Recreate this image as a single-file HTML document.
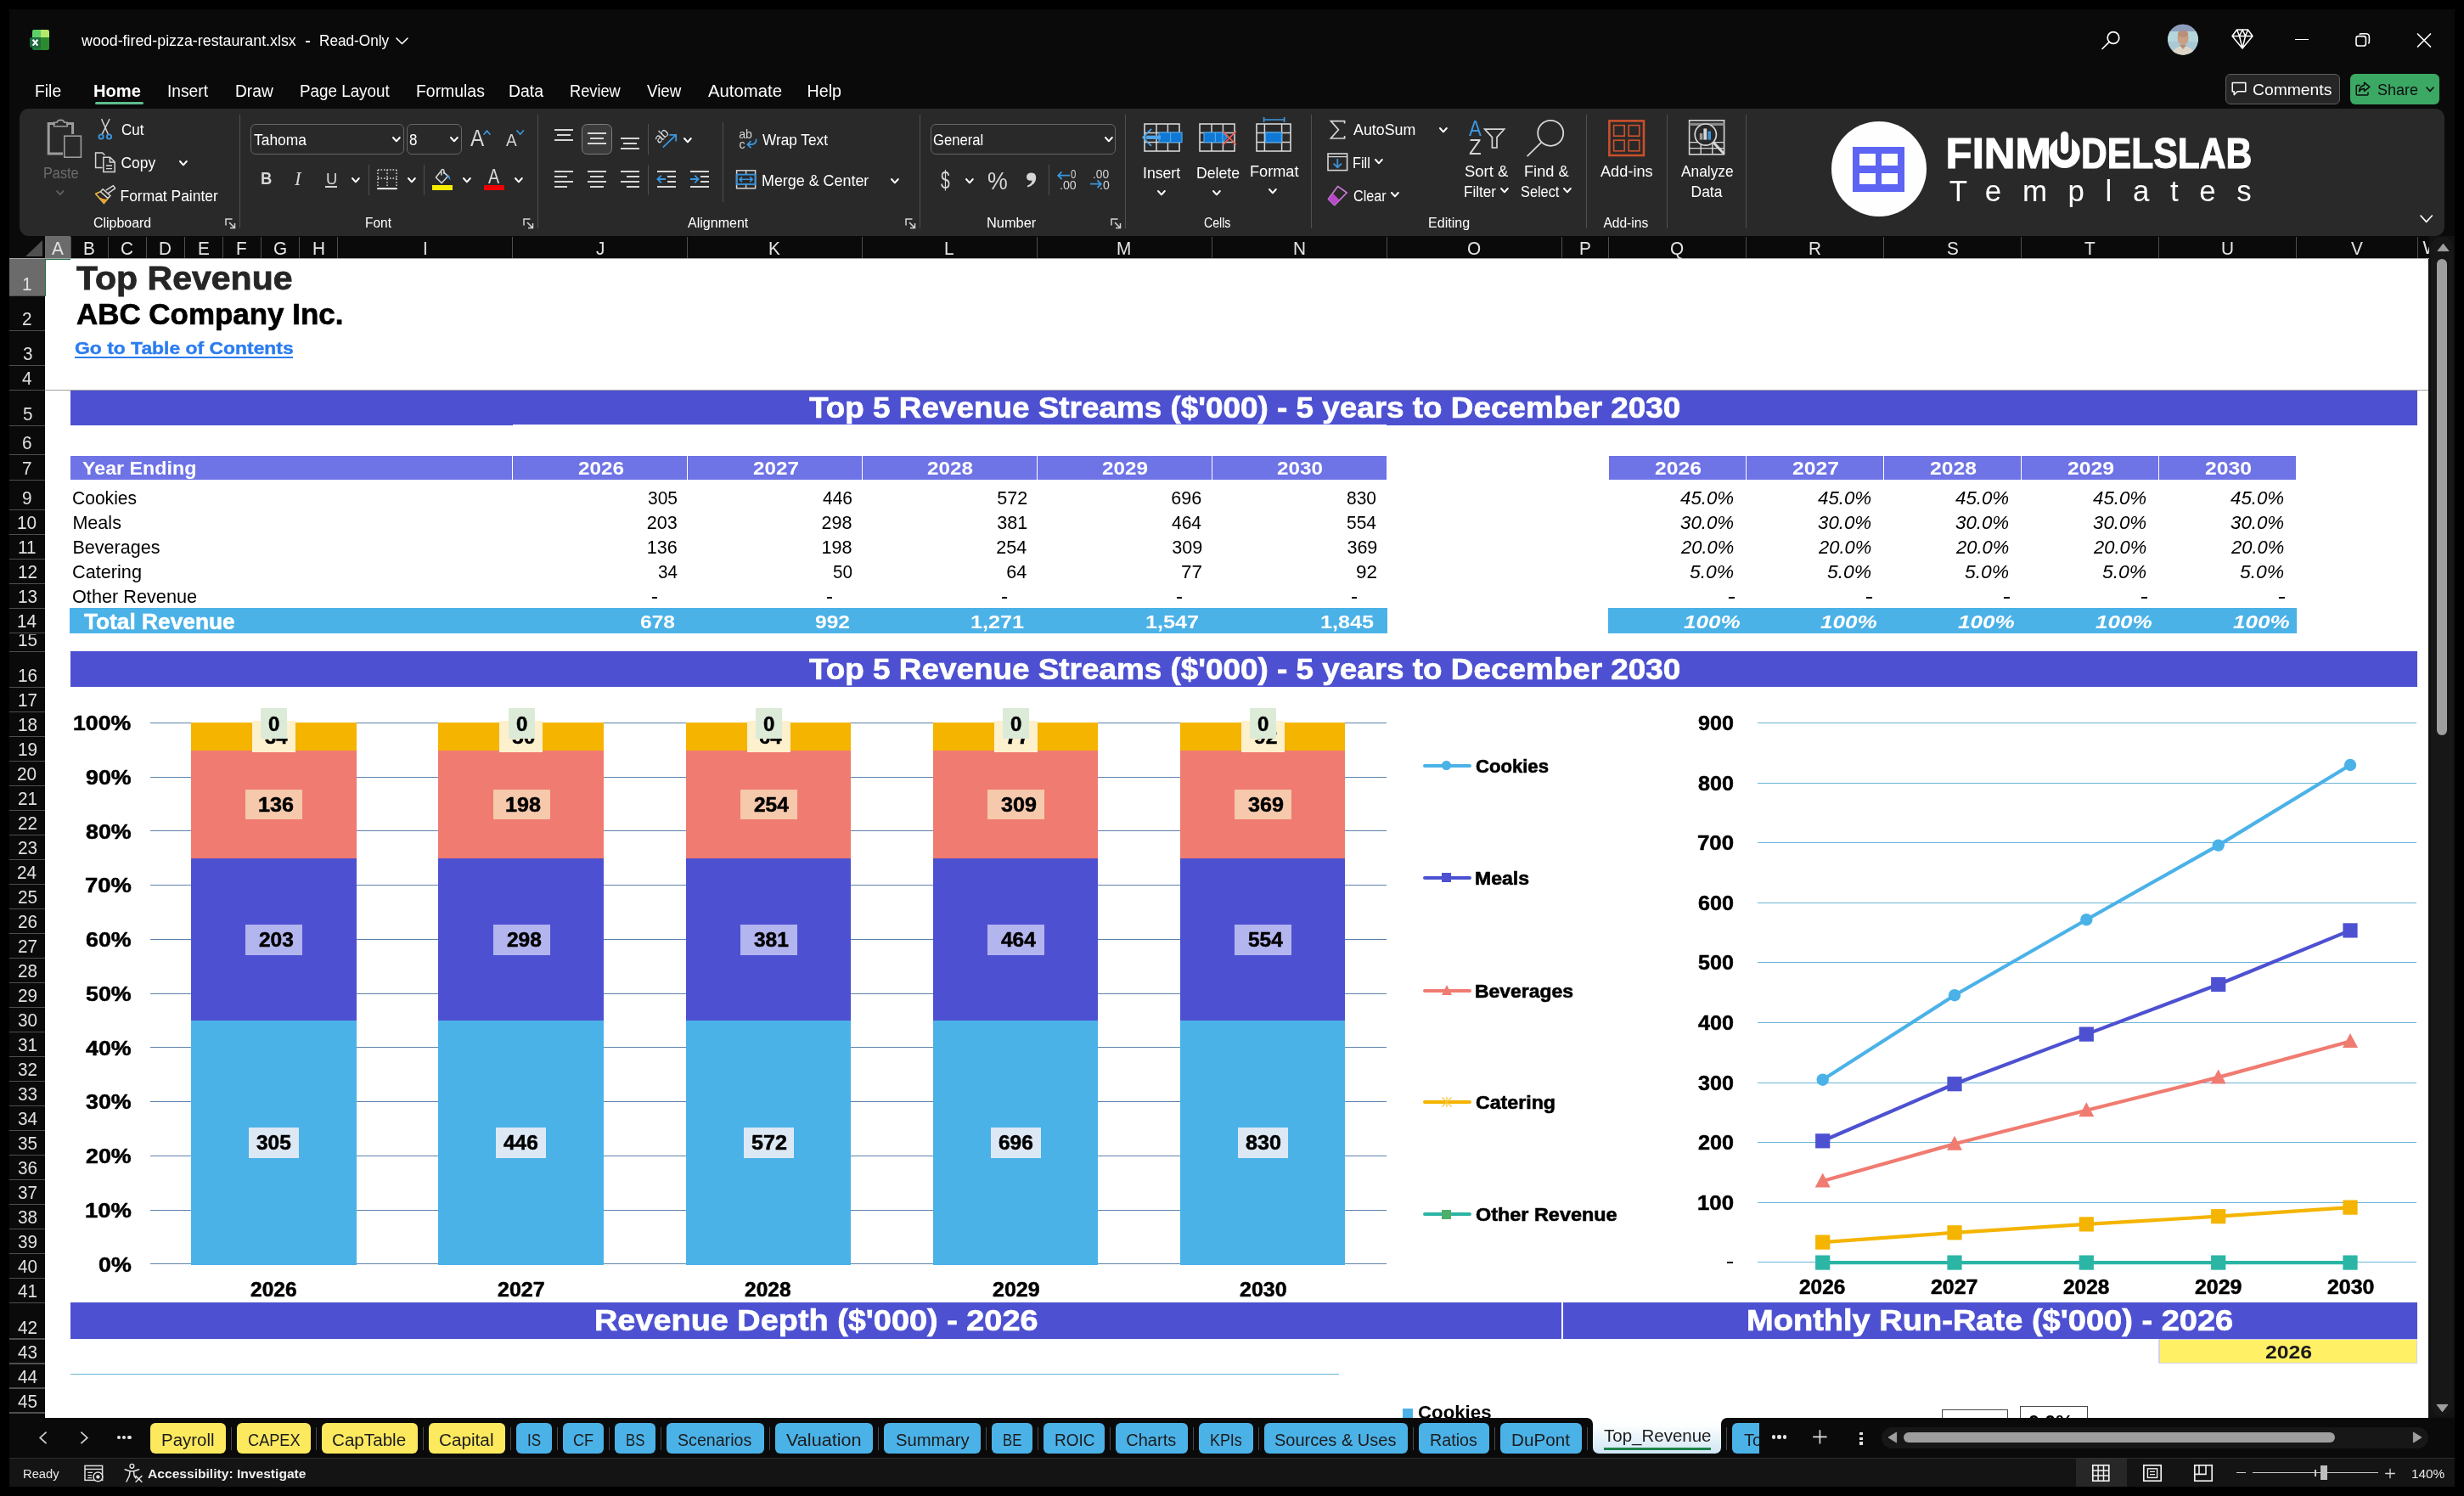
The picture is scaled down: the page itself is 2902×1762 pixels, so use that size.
<!DOCTYPE html>
<html><head><meta charset="utf-8"><title>Excel</title>
<style>
html,body{margin:0;padding:0;background:#000;}
body{width:2902px;height:1762px;position:relative;overflow:hidden;font-family:"Liberation Sans",sans-serif;}
#w{position:absolute;left:0;top:0;width:2902px;height:1762px;will-change:transform;}
#w>div,#w>svg,#w>span{position:absolute;}
.t{position:absolute;white-space:pre;line-height:1;transform-origin:0 0;}

</style></head><body><div id="w">
<div style="left:11.0px;top:11.0px;width:2880.0px;height:1740.0px;background:#0a0a0a;"></div>
<div style="left:53.2px;top:305.0px;width:2807.3px;height:1364.8px;background:#ffffff;"></div>
<div style="left:11.0px;top:277.7px;width:2849.5px;height:26.6px;background:#0a0a0a;"></div>
<div style="left:11.0px;top:304.3px;width:2849.5px;height:1.0px;background:#a6a6a6;"></div>
<div style="left:53.2px;top:277.7px;width:30.0px;height:26.6px;background:#6b6b6b;"></div>
<div style="left:82.6px;top:279.0px;width:1.2px;height:25.3px;background:#4f4f4f;"></div>
<div style="left:126.9px;top:279.0px;width:1.2px;height:25.3px;background:#4f4f4f;"></div>
<div style="left:171.9px;top:279.0px;width:1.2px;height:25.3px;background:#4f4f4f;"></div>
<div style="left:216.9px;top:279.0px;width:1.2px;height:25.3px;background:#4f4f4f;"></div>
<div style="left:261.9px;top:279.0px;width:1.2px;height:25.3px;background:#4f4f4f;"></div>
<div style="left:306.9px;top:279.0px;width:1.2px;height:25.3px;background:#4f4f4f;"></div>
<div style="left:351.9px;top:279.0px;width:1.2px;height:25.3px;background:#4f4f4f;"></div>
<div style="left:396.9px;top:279.0px;width:1.2px;height:25.3px;background:#4f4f4f;"></div>
<div style="left:602.9px;top:279.0px;width:1.2px;height:25.3px;background:#4f4f4f;"></div>
<div style="left:809.1px;top:279.0px;width:1.2px;height:25.3px;background:#4f4f4f;"></div>
<div style="left:1014.9px;top:279.0px;width:1.2px;height:25.3px;background:#4f4f4f;"></div>
<div style="left:1220.6px;top:279.0px;width:1.2px;height:25.3px;background:#4f4f4f;"></div>
<div style="left:1426.6px;top:279.0px;width:1.2px;height:25.3px;background:#4f4f4f;"></div>
<div style="left:1632.8px;top:279.0px;width:1.2px;height:25.3px;background:#4f4f4f;"></div>
<div style="left:1839.1px;top:279.0px;width:1.2px;height:25.3px;background:#4f4f4f;"></div>
<div style="left:1893.8px;top:279.0px;width:1.2px;height:25.3px;background:#4f4f4f;"></div>
<div style="left:2056.2px;top:279.0px;width:1.2px;height:25.3px;background:#4f4f4f;"></div>
<div style="left:2217.8px;top:279.0px;width:1.2px;height:25.3px;background:#4f4f4f;"></div>
<div style="left:2380.0px;top:279.0px;width:1.2px;height:25.3px;background:#4f4f4f;"></div>
<div style="left:2541.9px;top:279.0px;width:1.2px;height:25.3px;background:#4f4f4f;"></div>
<div style="left:2703.8px;top:279.0px;width:1.2px;height:25.3px;background:#4f4f4f;"></div>
<div style="left:2846.9px;top:279.0px;width:1.2px;height:25.3px;background:#4f4f4f;"></div>
<span class="t" style="left:60.93px;top:283.00px;font-size:21.43px;color:#e4e4e4;transform:scaleX(0.9700);">A</span>
<span class="t" style="left:98.07px;top:283.00px;font-size:21.43px;color:#e4e4e4;transform:scaleX(0.9700);">B</span>
<span class="t" style="left:142.24px;top:283.00px;font-size:21.43px;color:#e4e4e4;transform:scaleX(0.9700);">C</span>
<span class="t" style="left:187.24px;top:283.00px;font-size:21.43px;color:#e4e4e4;transform:scaleX(0.9700);">D</span>
<span class="t" style="left:232.72px;top:283.00px;font-size:21.43px;color:#e4e4e4;transform:scaleX(0.9700);">E</span>
<span class="t" style="left:278.21px;top:283.00px;font-size:21.43px;color:#e4e4e4;transform:scaleX(0.9700);">F</span>
<span class="t" style="left:321.75px;top:283.00px;font-size:21.43px;color:#e4e4e4;transform:scaleX(0.9700);">G</span>
<span class="t" style="left:367.73px;top:283.00px;font-size:21.43px;color:#e4e4e4;transform:scaleX(0.9700);">H</span>
<span class="t" style="left:498.07px;top:283.00px;font-size:21.43px;color:#e4e4e4;transform:scaleX(0.9700);">I</span>
<span class="t" style="left:701.75px;top:283.00px;font-size:21.43px;color:#e4e4e4;transform:scaleX(0.9700);">J</span>
<span class="t" style="left:904.84px;top:283.00px;font-size:21.43px;color:#e4e4e4;transform:scaleX(0.9700);">K</span>
<span class="t" style="left:1112.04px;top:283.00px;font-size:21.43px;color:#e4e4e4;transform:scaleX(0.9700);">L</span>
<span class="t" style="left:1315.47px;top:283.00px;font-size:21.43px;color:#e4e4e4;transform:scaleX(0.9700);">M</span>
<span class="t" style="left:1523.03px;top:283.00px;font-size:21.43px;color:#e4e4e4;transform:scaleX(0.9700);">N</span>
<span class="t" style="left:1728.31px;top:283.00px;font-size:21.43px;color:#e4e4e4;transform:scaleX(0.9700);">O</span>
<span class="t" style="left:1859.78px;top:283.00px;font-size:21.43px;color:#e4e4e4;transform:scaleX(0.9700);">P</span>
<span class="t" style="left:1967.36px;top:283.00px;font-size:21.43px;color:#e4e4e4;transform:scaleX(0.9700);">Q</span>
<span class="t" style="left:2129.84px;top:283.00px;font-size:21.43px;color:#e4e4e4;transform:scaleX(0.9700);">R</span>
<span class="t" style="left:2292.71px;top:283.00px;font-size:21.43px;color:#e4e4e4;transform:scaleX(0.9700);">S</span>
<span class="t" style="left:2455.25px;top:283.00px;font-size:21.43px;color:#e4e4e4;transform:scaleX(0.9700);">T</span>
<span class="t" style="left:2616.17px;top:283.00px;font-size:21.43px;color:#e4e4e4;transform:scaleX(0.9700);">U</span>
<span class="t" style="left:2768.67px;top:283.00px;font-size:21.43px;color:#e4e4e4;transform:scaleX(0.9700);">V</span>
<div style="left:2847.5px;top:278px;width:13px;height:26px;overflow:hidden;"><span class="t" style="left:6px;top:3.9px;font-size:21.4px;color:#e4e4e4;">W</span></div>
<svg style="left:30.0px;top:283.0px;" width="20" height="19" viewBox="0 0 20 19"><path d="M20 0 L20 19 L0 19 Z" fill="#4f4f4f"/></svg>
<div style="left:11.2px;top:305.3px;width:42.0px;height:1364.5px;background:#0a0a0a;"></div>
<div style="left:11.2px;top:305.3px;width:42.0px;height:43.4px;background:#6b6b6b;"></div>
<div style="left:11.2px;top:348.1px;width:42.0px;height:1.2px;background:#4f4f4f;"></div>
<div style="left:11.2px;top:388.7px;width:42.0px;height:1.2px;background:#4f4f4f;"></div>
<div style="left:11.2px;top:429.7px;width:42.0px;height:1.2px;background:#4f4f4f;"></div>
<div style="left:11.2px;top:458.5px;width:42.0px;height:1.2px;background:#4f4f4f;"></div>
<div style="left:11.2px;top:500.7px;width:42.0px;height:1.2px;background:#4f4f4f;"></div>
<div style="left:11.2px;top:535.2px;width:42.0px;height:1.2px;background:#4f4f4f;"></div>
<div style="left:11.2px;top:564.7px;width:42.0px;height:1.2px;background:#4f4f4f;"></div>
<div style="left:11.2px;top:599.8px;width:42.0px;height:1.2px;background:#4f4f4f;"></div>
<div style="left:11.2px;top:628.8px;width:42.0px;height:1.2px;background:#4f4f4f;"></div>
<div style="left:11.2px;top:657.8px;width:42.0px;height:1.2px;background:#4f4f4f;"></div>
<div style="left:11.2px;top:686.7px;width:42.0px;height:1.2px;background:#4f4f4f;"></div>
<div style="left:11.2px;top:715.7px;width:42.0px;height:1.2px;background:#4f4f4f;"></div>
<div style="left:11.2px;top:744.6px;width:42.0px;height:1.2px;background:#4f4f4f;"></div>
<div style="left:11.2px;top:766.6px;width:42.0px;height:1.2px;background:#4f4f4f;"></div>
<div style="left:11.2px;top:808.8px;width:42.0px;height:1.2px;background:#4f4f4f;"></div>
<div style="left:11.2px;top:837.8px;width:42.0px;height:1.2px;background:#4f4f4f;"></div>
<div style="left:11.2px;top:866.8px;width:42.0px;height:1.2px;background:#4f4f4f;"></div>
<div style="left:11.2px;top:895.8px;width:42.0px;height:1.2px;background:#4f4f4f;"></div>
<div style="left:11.2px;top:924.8px;width:42.0px;height:1.2px;background:#4f4f4f;"></div>
<div style="left:11.2px;top:953.8px;width:42.0px;height:1.2px;background:#4f4f4f;"></div>
<div style="left:11.2px;top:982.8px;width:42.0px;height:1.2px;background:#4f4f4f;"></div>
<div style="left:11.2px;top:1011.8px;width:42.0px;height:1.2px;background:#4f4f4f;"></div>
<div style="left:11.2px;top:1040.8px;width:42.0px;height:1.2px;background:#4f4f4f;"></div>
<div style="left:11.2px;top:1069.8px;width:42.0px;height:1.2px;background:#4f4f4f;"></div>
<div style="left:11.2px;top:1098.8px;width:42.0px;height:1.2px;background:#4f4f4f;"></div>
<div style="left:11.2px;top:1127.8px;width:42.0px;height:1.2px;background:#4f4f4f;"></div>
<div style="left:11.2px;top:1156.8px;width:42.0px;height:1.2px;background:#4f4f4f;"></div>
<div style="left:11.2px;top:1185.8px;width:42.0px;height:1.2px;background:#4f4f4f;"></div>
<div style="left:11.2px;top:1214.8px;width:42.0px;height:1.2px;background:#4f4f4f;"></div>
<div style="left:11.2px;top:1243.8px;width:42.0px;height:1.2px;background:#4f4f4f;"></div>
<div style="left:11.2px;top:1272.8px;width:42.0px;height:1.2px;background:#4f4f4f;"></div>
<div style="left:11.2px;top:1301.8px;width:42.0px;height:1.2px;background:#4f4f4f;"></div>
<div style="left:11.2px;top:1330.8px;width:42.0px;height:1.2px;background:#4f4f4f;"></div>
<div style="left:11.2px;top:1359.8px;width:42.0px;height:1.2px;background:#4f4f4f;"></div>
<div style="left:11.2px;top:1388.8px;width:42.0px;height:1.2px;background:#4f4f4f;"></div>
<div style="left:11.2px;top:1417.8px;width:42.0px;height:1.2px;background:#4f4f4f;"></div>
<div style="left:11.2px;top:1446.8px;width:42.0px;height:1.2px;background:#4f4f4f;"></div>
<div style="left:11.2px;top:1475.8px;width:42.0px;height:1.2px;background:#4f4f4f;"></div>
<div style="left:11.2px;top:1504.8px;width:42.0px;height:1.2px;background:#4f4f4f;"></div>
<div style="left:11.2px;top:1533.8px;width:42.0px;height:1.2px;background:#4f4f4f;"></div>
<div style="left:11.2px;top:1576.4px;width:42.0px;height:1.2px;background:#4f4f4f;"></div>
<div style="left:11.2px;top:1605.4px;width:42.0px;height:1.2px;background:#4f4f4f;"></div>
<div style="left:11.2px;top:1634.4px;width:42.0px;height:1.2px;background:#4f4f4f;"></div>
<div style="left:11.2px;top:1663.4px;width:42.0px;height:1.2px;background:#4f4f4f;"></div>
<div style="left:11.2px;top:565.3px;width:42.0px;height:1.0px;background:#4f4f4f;"></div>
<div style="left:11.2px;top:305.3px;width:42px;height:1364.5px;overflow:hidden;" id="rh">
<span class="t" style="left:15.18px;top:20.10px;font-size:21.4px;color:#e0e0e0;transform:scaleX(0.9700);">1</span>
<span class="t" style="left:15.18px;top:60.70px;font-size:21.4px;color:#e0e0e0;transform:scaleX(0.9700);">2</span>
<span class="t" style="left:15.67px;top:101.70px;font-size:21.4px;color:#e0e0e0;transform:scaleX(0.9700);">3</span>
<span class="t" style="left:15.18px;top:130.50px;font-size:21.4px;color:#e0e0e0;transform:scaleX(0.9700);">4</span>
<span class="t" style="left:15.67px;top:172.70px;font-size:21.4px;color:#e0e0e0;transform:scaleX(0.9700);">5</span>
<span class="t" style="left:15.18px;top:207.20px;font-size:21.4px;color:#e0e0e0;transform:scaleX(0.9700);">6</span>
<span class="t" style="left:15.18px;top:236.70px;font-size:21.4px;color:#e0e0e0;transform:scaleX(0.9700);">7</span>
<span class="t" style="left:15.18px;top:271.80px;font-size:21.4px;color:#e0e0e0;transform:scaleX(0.9700);">9</span>
<span class="t" style="left:8.93px;top:300.80px;font-size:21.4px;color:#e0e0e0;transform:scaleX(0.9700);">10</span>
<span class="t" style="left:10.18px;top:329.80px;font-size:21.4px;color:#e0e0e0;transform:scaleX(0.9700);">11</span>
<span class="t" style="left:9.41px;top:358.70px;font-size:21.4px;color:#e0e0e0;transform:scaleX(0.9700);">12</span>
<span class="t" style="left:9.41px;top:387.70px;font-size:21.4px;color:#e0e0e0;transform:scaleX(0.9700);">13</span>
<span class="t" style="left:8.93px;top:416.60px;font-size:21.4px;color:#e0e0e0;transform:scaleX(0.9700);">14</span>
<span class="t" style="left:9.41px;top:438.60px;font-size:21.4px;color:#e0e0e0;transform:scaleX(0.9700);clip-path:inset(3.4px 0 0 0);">15</span>
<span class="t" style="left:9.41px;top:480.80px;font-size:21.4px;color:#e0e0e0;transform:scaleX(0.9700);">16</span>
<span class="t" style="left:9.41px;top:509.80px;font-size:21.4px;color:#e0e0e0;transform:scaleX(0.9700);">17</span>
<span class="t" style="left:9.41px;top:538.80px;font-size:21.4px;color:#e0e0e0;transform:scaleX(0.9700);">18</span>
<span class="t" style="left:9.41px;top:567.80px;font-size:21.4px;color:#e0e0e0;transform:scaleX(0.9700);">19</span>
<span class="t" style="left:8.93px;top:596.80px;font-size:21.4px;color:#e0e0e0;transform:scaleX(0.9700);">20</span>
<span class="t" style="left:9.41px;top:625.80px;font-size:21.4px;color:#e0e0e0;transform:scaleX(0.9700);">21</span>
<span class="t" style="left:9.41px;top:654.80px;font-size:21.4px;color:#e0e0e0;transform:scaleX(0.9700);">22</span>
<span class="t" style="left:9.41px;top:683.80px;font-size:21.4px;color:#e0e0e0;transform:scaleX(0.9700);">23</span>
<span class="t" style="left:8.93px;top:712.80px;font-size:21.4px;color:#e0e0e0;transform:scaleX(0.9700);">24</span>
<span class="t" style="left:9.41px;top:741.80px;font-size:21.4px;color:#e0e0e0;transform:scaleX(0.9700);">25</span>
<span class="t" style="left:9.41px;top:770.80px;font-size:21.4px;color:#e0e0e0;transform:scaleX(0.9700);">26</span>
<span class="t" style="left:9.41px;top:799.80px;font-size:21.4px;color:#e0e0e0;transform:scaleX(0.9700);">27</span>
<span class="t" style="left:9.41px;top:828.80px;font-size:21.4px;color:#e0e0e0;transform:scaleX(0.9700);">28</span>
<span class="t" style="left:9.41px;top:857.80px;font-size:21.4px;color:#e0e0e0;transform:scaleX(0.9700);">29</span>
<span class="t" style="left:9.41px;top:886.80px;font-size:21.4px;color:#e0e0e0;transform:scaleX(0.9700);">30</span>
<span class="t" style="left:9.90px;top:915.80px;font-size:21.4px;color:#e0e0e0;transform:scaleX(0.9700);">31</span>
<span class="t" style="left:9.90px;top:944.80px;font-size:21.4px;color:#e0e0e0;transform:scaleX(0.9700);">32</span>
<span class="t" style="left:9.90px;top:973.80px;font-size:21.4px;color:#e0e0e0;transform:scaleX(0.9700);">33</span>
<span class="t" style="left:9.41px;top:1002.80px;font-size:21.4px;color:#e0e0e0;transform:scaleX(0.9700);">34</span>
<span class="t" style="left:9.90px;top:1031.80px;font-size:21.4px;color:#e0e0e0;transform:scaleX(0.9700);">35</span>
<span class="t" style="left:9.90px;top:1060.80px;font-size:21.4px;color:#e0e0e0;transform:scaleX(0.9700);">36</span>
<span class="t" style="left:9.90px;top:1089.80px;font-size:21.4px;color:#e0e0e0;transform:scaleX(0.9700);">37</span>
<span class="t" style="left:9.90px;top:1118.80px;font-size:21.4px;color:#e0e0e0;transform:scaleX(0.9700);">38</span>
<span class="t" style="left:9.90px;top:1147.80px;font-size:21.4px;color:#e0e0e0;transform:scaleX(0.9700);">39</span>
<span class="t" style="left:9.41px;top:1176.80px;font-size:21.4px;color:#e0e0e0;transform:scaleX(0.9700);">40</span>
<span class="t" style="left:9.90px;top:1205.80px;font-size:21.4px;color:#e0e0e0;transform:scaleX(0.9700);">41</span>
<span class="t" style="left:9.90px;top:1248.40px;font-size:21.4px;color:#e0e0e0;transform:scaleX(0.9700);">42</span>
<span class="t" style="left:9.90px;top:1277.40px;font-size:21.4px;color:#e0e0e0;transform:scaleX(0.9700);">43</span>
<span class="t" style="left:9.41px;top:1306.40px;font-size:21.4px;color:#e0e0e0;transform:scaleX(0.9700);">44</span>
<span class="t" style="left:9.90px;top:1335.40px;font-size:21.4px;color:#e0e0e0;transform:scaleX(0.9700);">45</span>
<span class="t" style="left:9.90px;top:1371.40px;font-size:21.4px;color:#e0e0e0;transform:scaleX(0.9700);">46</span>
</div>
<div style="left:53.2px;top:304.6px;width:30.0px;height:1.2px;background:#1e7145;"></div>
<div style="left:52.8px;top:305.0px;width:1.2px;height:43.7px;background:#1e7145;"></div>
<div style="left:53.2px;top:458.8px;width:2807.3px;height:1.0px;background:#a0a0a0;"></div>
<span class="t" style="left:89.72px;top:309.40px;font-size:38.86px;color:#262626;transform:scaleX(1.0556);font-weight:bold;-webkit-text-stroke:0.8px #262626;">Top Revenue</span>
<span class="t" style="left:89.66px;top:352.60px;font-size:34.29px;color:#000;transform:scaleX(1.0187);font-weight:bold;-webkit-text-stroke:0.7px #000;">ABC Company Inc.</span>
<span class="t" style="left:87.92px;top:399.10px;font-size:21.14px;color:#2b7cf0;transform:scaleX(1.0835);font-weight:bold;-webkit-text-stroke:0.4px #2b7cf0;">Go to Table of Contents</span>
<div style="left:87.7px;top:420.0px;width:257.3px;height:1.8px;background:#2b7cf0;"></div>
<div style="left:83.2px;top:459.5px;width:2763.8px;height:41.5px;background:#4d51d1;"></div>
<span class="t" style="left:952.77px;top:463.40px;font-size:34.86px;color:#fff;transform:scaleX(1.0574);font-weight:bold;-webkit-text-stroke:0.7px #fff;">Top 5 Revenue Streams ($'000) - 5 years to December 2030</span>
<div style="left:603.5px;top:500.2px;width:1029.9px;height:1.0px;background:#ffffff;"></div>
<div style="left:83.2px;top:767.0px;width:2763.8px;height:42.0px;background:#4d51d1;"></div>
<span class="t" style="left:952.77px;top:770.90px;font-size:34.86px;color:#fff;transform:scaleX(1.0574);font-weight:bold;-webkit-text-stroke:0.7px #fff;">Top 5 Revenue Streams ($'000) - 5 years to December 2030</span>
<div style="left:83.2px;top:1534.4px;width:1756.1px;height:42.2px;background:#4d51d1;"></div>
<span class="t" style="left:699.51px;top:1538.30px;font-size:34.86px;color:#fff;transform:scaleX(1.0863);font-weight:bold;-webkit-text-stroke:0.7px #fff;">Revenue Depth ($'000) - 2026</span>
<div style="left:1840.5px;top:1534.4px;width:1006.5px;height:42.2px;background:#4d51d1;"></div>
<span class="t" style="left:2056.80px;top:1538.30px;font-size:34.86px;color:#fff;transform:scaleX(1.0909);font-weight:bold;-webkit-text-stroke:0.7px #fff;">Monthly Run-Rate ($'000) - 2026</span>
<div style="left:83.2px;top:537.0px;width:1550.0px;height:27.7px;background:#6e73e6;"></div>
<div style="left:602.9px;top:537.0px;width:1.2px;height:27.7px;background:#fff;"></div>
<div style="left:809.1px;top:537.0px;width:1.2px;height:27.7px;background:#fff;"></div>
<div style="left:1014.9px;top:537.0px;width:1.2px;height:27.7px;background:#fff;"></div>
<div style="left:1220.6px;top:537.0px;width:1.2px;height:27.7px;background:#fff;"></div>
<div style="left:1426.6px;top:537.0px;width:1.2px;height:27.7px;background:#fff;"></div>
<span class="t" style="left:97.40px;top:540.60px;font-size:21.57px;color:#fff;transform:scaleX(1.0782);font-weight:bold;">Year Ending</span>
<span class="t" style="left:680.60px;top:540.60px;font-size:21.57px;color:#fff;transform:scaleX(1.1256);font-weight:bold;">2026</span>
<span class="t" style="left:886.60px;top:540.60px;font-size:21.57px;color:#fff;transform:scaleX(1.1256);font-weight:bold;">2027</span>
<span class="t" style="left:1092.35px;top:540.60px;font-size:21.57px;color:#fff;transform:scaleX(1.1256);font-weight:bold;">2028</span>
<span class="t" style="left:1298.20px;top:540.60px;font-size:21.57px;color:#fff;transform:scaleX(1.1256);font-weight:bold;">2029</span>
<span class="t" style="left:1504.30px;top:540.60px;font-size:21.57px;color:#fff;transform:scaleX(1.1256);font-weight:bold;">2030</span>
<span class="t" style="left:85.42px;top:575.90px;font-size:21.57px;color:#000;transform:scaleX(0.9761);">Cookies</span>
<span class="t" style="left:762.70px;top:575.90px;font-size:21.57px;color:#000;transform:scaleX(0.9727);">305</span>
<span class="t" style="left:968.50px;top:575.90px;font-size:21.57px;color:#000;transform:scaleX(0.9727);">446</span>
<span class="t" style="left:1174.20px;top:575.90px;font-size:21.57px;color:#000;">572</span>
<span class="t" style="left:1379.20px;top:575.90px;font-size:21.57px;color:#000;">696</span>
<span class="t" style="left:1586.40px;top:575.90px;font-size:21.57px;color:#000;transform:scaleX(0.9727);">830</span>
<span class="t" style="left:85.40px;top:605.00px;font-size:21.57px;color:#000;">Meals</span>
<span class="t" style="left:761.70px;top:605.00px;font-size:21.57px;color:#000;">203</span>
<span class="t" style="left:967.50px;top:605.00px;font-size:21.57px;color:#000;">298</span>
<span class="t" style="left:1174.20px;top:605.00px;font-size:21.57px;color:#000;">381</span>
<span class="t" style="left:1380.20px;top:605.00px;font-size:21.57px;color:#000;transform:scaleX(0.9727);">464</span>
<span class="t" style="left:1586.40px;top:605.00px;font-size:21.57px;color:#000;transform:scaleX(0.9727);">554</span>
<span class="t" style="left:85.40px;top:634.00px;font-size:21.57px;color:#000;">Beverages</span>
<span class="t" style="left:761.70px;top:634.00px;font-size:21.57px;color:#000;">136</span>
<span class="t" style="left:967.50px;top:634.00px;font-size:21.57px;color:#000;">198</span>
<span class="t" style="left:1173.20px;top:634.00px;font-size:21.57px;color:#000;">254</span>
<span class="t" style="left:1380.20px;top:634.00px;font-size:21.57px;color:#000;">309</span>
<span class="t" style="left:1586.40px;top:634.00px;font-size:21.57px;color:#000;">369</span>
<span class="t" style="left:85.39px;top:662.90px;font-size:21.57px;color:#000;transform:scaleX(1.0062);">Catering</span>
<span class="t" style="left:774.70px;top:662.90px;font-size:21.57px;color:#000;transform:scaleX(0.9587);">34</span>
<span class="t" style="left:980.50px;top:662.90px;font-size:21.57px;color:#000;transform:scaleX(0.9587);">50</span>
<span class="t" style="left:1185.20px;top:662.90px;font-size:21.57px;color:#000;">64</span>
<span class="t" style="left:1391.15px;top:662.90px;font-size:21.57px;color:#000;transform:scaleX(1.0458);">77</span>
<span class="t" style="left:1597.35px;top:662.90px;font-size:21.57px;color:#000;transform:scaleX(1.0458);">92</span>
<span class="t" style="left:85.39px;top:691.90px;font-size:21.57px;color:#000;transform:scaleX(1.0059);">Other Revenue</span>
<div style="left:768.2px;top:703.3px;width:6.3px;height:1.8px;background:#000;"></div>
<div style="left:974.0px;top:703.3px;width:6.3px;height:1.8px;background:#000;"></div>
<div style="left:1179.7px;top:703.3px;width:6.3px;height:1.8px;background:#000;"></div>
<div style="left:1385.7px;top:703.3px;width:6.3px;height:1.8px;background:#000;"></div>
<div style="left:1591.9px;top:703.3px;width:6.3px;height:1.8px;background:#000;"></div>
<div style="left:82.0px;top:716.0px;width:1552.0px;height:29.5px;background:#4bb2e8;"></div>
<span class="t" style="left:98.95px;top:718.80px;font-size:26.29px;color:#fff;font-weight:bold;-webkit-text-stroke:0.5px #fff;">Total Revenue</span>
<span class="t" style="left:753.70px;top:721.50px;font-size:21.57px;color:#fff;transform:scaleX(1.1394);font-weight:bold;">678</span>
<span class="t" style="left:959.50px;top:721.50px;font-size:21.57px;color:#fff;transform:scaleX(1.1394);font-weight:bold;">992</span>
<span class="t" style="left:1143.03px;top:721.50px;font-size:21.57px;color:#fff;transform:scaleX(1.1705);font-weight:bold;">1,271</span>
<span class="t" style="left:1349.03px;top:721.50px;font-size:21.57px;color:#fff;transform:scaleX(1.1705);font-weight:bold;">1,547</span>
<span class="t" style="left:1555.23px;top:721.50px;font-size:21.57px;color:#fff;transform:scaleX(1.1705);font-weight:bold;">1,845</span>
<div style="left:1894.6px;top:537.0px;width:809.8px;height:27.7px;background:#6e73e6;"></div>
<div style="left:2056.2px;top:537.0px;width:1.2px;height:27.7px;background:#fff;"></div>
<div style="left:2217.8px;top:537.0px;width:1.2px;height:27.7px;background:#fff;"></div>
<div style="left:2380.0px;top:537.0px;width:1.2px;height:27.7px;background:#fff;"></div>
<div style="left:2541.9px;top:537.0px;width:1.2px;height:27.7px;background:#fff;"></div>
<span class="t" style="left:1948.80px;top:540.60px;font-size:21.57px;color:#fff;transform:scaleX(1.1464);font-weight:bold;">2026</span>
<span class="t" style="left:2110.70px;top:540.60px;font-size:21.57px;color:#fff;transform:scaleX(1.1464);font-weight:bold;">2027</span>
<span class="t" style="left:2272.60px;top:540.60px;font-size:21.57px;color:#fff;transform:scaleX(1.1464);font-weight:bold;">2028</span>
<span class="t" style="left:2434.65px;top:540.60px;font-size:21.57px;color:#fff;transform:scaleX(1.1464);font-weight:bold;">2029</span>
<span class="t" style="left:2596.55px;top:540.60px;font-size:21.57px;color:#fff;transform:scaleX(1.1464);font-weight:bold;">2030</span>
<span class="t" style="left:1979.30px;top:575.90px;font-size:21.57px;color:#000;transform:scaleX(1.0333);font-style:italic;">45.0%</span>
<span class="t" style="left:2140.90px;top:575.90px;font-size:21.57px;color:#000;transform:scaleX(1.0333);font-style:italic;">45.0%</span>
<span class="t" style="left:2303.10px;top:575.90px;font-size:21.57px;color:#000;transform:scaleX(1.0333);font-style:italic;">45.0%</span>
<span class="t" style="left:2465.00px;top:575.90px;font-size:21.57px;color:#000;transform:scaleX(1.0333);font-style:italic;">45.0%</span>
<span class="t" style="left:2626.90px;top:575.90px;font-size:21.57px;color:#000;transform:scaleX(1.0333);font-style:italic;">45.0%</span>
<span class="t" style="left:1979.30px;top:605.00px;font-size:21.57px;color:#000;transform:scaleX(1.0333);font-style:italic;">30.0%</span>
<span class="t" style="left:2140.90px;top:605.00px;font-size:21.57px;color:#000;transform:scaleX(1.0333);font-style:italic;">30.0%</span>
<span class="t" style="left:2303.10px;top:605.00px;font-size:21.57px;color:#000;transform:scaleX(1.0333);font-style:italic;">30.0%</span>
<span class="t" style="left:2465.00px;top:605.00px;font-size:21.57px;color:#000;transform:scaleX(1.0333);font-style:italic;">30.0%</span>
<span class="t" style="left:2626.90px;top:605.00px;font-size:21.57px;color:#000;transform:scaleX(1.0333);font-style:italic;">30.0%</span>
<span class="t" style="left:1980.32px;top:634.00px;font-size:21.57px;color:#000;transform:scaleX(1.0167);font-style:italic;">20.0%</span>
<span class="t" style="left:2141.92px;top:634.00px;font-size:21.57px;color:#000;transform:scaleX(1.0167);font-style:italic;">20.0%</span>
<span class="t" style="left:2304.12px;top:634.00px;font-size:21.57px;color:#000;transform:scaleX(1.0167);font-style:italic;">20.0%</span>
<span class="t" style="left:2466.02px;top:634.00px;font-size:21.57px;color:#000;transform:scaleX(1.0167);font-style:italic;">20.0%</span>
<span class="t" style="left:2627.92px;top:634.00px;font-size:21.57px;color:#000;transform:scaleX(1.0167);font-style:italic;">20.0%</span>
<span class="t" style="left:1990.30px;top:662.90px;font-size:21.57px;color:#000;transform:scaleX(1.0618);font-style:italic;">5.0%</span>
<span class="t" style="left:2151.90px;top:662.90px;font-size:21.57px;color:#000;transform:scaleX(1.0618);font-style:italic;">5.0%</span>
<span class="t" style="left:2314.10px;top:662.90px;font-size:21.57px;color:#000;transform:scaleX(1.0618);font-style:italic;">5.0%</span>
<span class="t" style="left:2476.00px;top:662.90px;font-size:21.57px;color:#000;transform:scaleX(1.0618);font-style:italic;">5.0%</span>
<span class="t" style="left:2637.90px;top:662.90px;font-size:21.57px;color:#000;transform:scaleX(1.0618);font-style:italic;">5.0%</span>
<div style="left:2036.0px;top:703.3px;width:6.8px;height:1.8px;background:#000;transform:skewX(-12deg);"></div>
<div style="left:2197.6px;top:703.3px;width:6.8px;height:1.8px;background:#000;transform:skewX(-12deg);"></div>
<div style="left:2359.8px;top:703.3px;width:6.8px;height:1.8px;background:#000;transform:skewX(-12deg);"></div>
<div style="left:2521.7px;top:703.3px;width:6.8px;height:1.8px;background:#000;transform:skewX(-12deg);"></div>
<div style="left:2683.6px;top:703.3px;width:6.8px;height:1.8px;background:#000;transform:skewX(-12deg);"></div>
<div style="left:1894.0px;top:716.0px;width:810.8px;height:29.5px;background:#4bb2e8;"></div>
<span class="t" style="left:1982.60px;top:721.50px;font-size:21.57px;color:#fff;transform:scaleX(1.2114);font-weight:bold;font-style:italic;">100%</span>
<span class="t" style="left:2144.20px;top:721.50px;font-size:21.57px;color:#fff;transform:scaleX(1.2114);font-weight:bold;font-style:italic;">100%</span>
<span class="t" style="left:2306.40px;top:721.50px;font-size:21.57px;color:#fff;transform:scaleX(1.2114);font-weight:bold;font-style:italic;">100%</span>
<span class="t" style="left:2468.30px;top:721.50px;font-size:21.57px;color:#fff;transform:scaleX(1.2114);font-weight:bold;font-style:italic;">100%</span>
<span class="t" style="left:2630.20px;top:721.50px;font-size:21.57px;color:#fff;transform:scaleX(1.2114);font-weight:bold;font-style:italic;">100%</span>
<div style="left:176.5px;top:1488.0px;width:1456.0px;height:1.3px;background:#5c82ad;"></div>
<span class="t" style="left:115.79px;top:1478.70px;font-size:23.14px;color:#000;transform:scaleX(1.1600);font-weight:bold;-webkit-text-stroke:0.5px #000;">0%</span>
<div style="left:176.5px;top:1425.0px;width:1456.0px;height:1.3px;background:#5c82ad;"></div>
<span class="t" style="left:99.71px;top:1414.93px;font-size:23.14px;color:#000;transform:scaleX(1.1853);font-weight:bold;-webkit-text-stroke:0.5px #000;">10%</span>
<div style="left:176.5px;top:1361.0px;width:1456.0px;height:1.3px;background:#5c82ad;"></div>
<span class="t" style="left:100.89px;top:1351.16px;font-size:23.14px;color:#000;transform:scaleX(1.1596);font-weight:bold;-webkit-text-stroke:0.5px #000;">20%</span>
<div style="left:176.5px;top:1297.0px;width:1456.0px;height:1.3px;background:#5c82ad;"></div>
<span class="t" style="left:100.89px;top:1287.39px;font-size:23.14px;color:#000;transform:scaleX(1.1596);font-weight:bold;-webkit-text-stroke:0.5px #000;">30%</span>
<div style="left:176.5px;top:1233.0px;width:1456.0px;height:1.3px;background:#5c82ad;"></div>
<span class="t" style="left:100.89px;top:1223.62px;font-size:23.14px;color:#000;transform:scaleX(1.1596);font-weight:bold;-webkit-text-stroke:0.5px #000;">40%</span>
<div style="left:176.5px;top:1170.0px;width:1456.0px;height:1.3px;background:#5c82ad;"></div>
<span class="t" style="left:100.89px;top:1159.85px;font-size:23.14px;color:#000;transform:scaleX(1.1596);font-weight:bold;-webkit-text-stroke:0.5px #000;">50%</span>
<div style="left:176.5px;top:1106.0px;width:1456.0px;height:1.3px;background:#5c82ad;"></div>
<span class="t" style="left:100.89px;top:1096.08px;font-size:23.14px;color:#000;transform:scaleX(1.1596);font-weight:bold;-webkit-text-stroke:0.5px #000;">60%</span>
<div style="left:176.5px;top:1042.0px;width:1456.0px;height:1.3px;background:#5c82ad;"></div>
<span class="t" style="left:99.71px;top:1032.31px;font-size:23.14px;color:#000;transform:scaleX(1.1853);font-weight:bold;-webkit-text-stroke:0.5px #000;">70%</span>
<div style="left:176.5px;top:978.0px;width:1456.0px;height:1.4px;background:#5c82ad;"></div>
<span class="t" style="left:100.89px;top:968.54px;font-size:23.14px;color:#000;transform:scaleX(1.1596);font-weight:bold;-webkit-text-stroke:0.5px #000;">80%</span>
<div style="left:176.5px;top:915.0px;width:1456.0px;height:1.4px;background:#5c82ad;"></div>
<span class="t" style="left:100.89px;top:904.77px;font-size:23.14px;color:#000;transform:scaleX(1.1596);font-weight:bold;-webkit-text-stroke:0.5px #000;">90%</span>
<div style="left:176.5px;top:851.0px;width:1456.0px;height:1.4px;background:#5c82ad;"></div>
<span class="t" style="left:86.44px;top:841.00px;font-size:23.14px;color:#000;transform:scaleX(1.1518);font-weight:bold;-webkit-text-stroke:0.5px #000;">100%</span>
<div style="left:225.1px;top:1202.2px;width:194.6px;height:287.7px;background:#4bb2e8;"></div>
<div style="left:225.1px;top:1010.9px;width:194.6px;height:191.3px;background:#4d51d1;"></div>
<div style="left:225.1px;top:884.0px;width:194.6px;height:126.9px;background:#f07b71;"></div>
<div style="left:225.1px;top:850.8px;width:194.6px;height:33.2px;background:#f4b400;"></div>
<div style="left:293.2px;top:1327.7px;width:59.0px;height:36.0px;background:#dde8f5;"></div>
<span class="t" style="left:302.21px;top:1335.42px;font-size:23.14px;color:#000;transform:scaleX(1.0581);font-weight:bold;-webkit-text-stroke:0.5px #000;">305</span>
<div style="left:289.3px;top:1088.6px;width:67.0px;height:36.0px;background:#b3b5ef;"></div>
<span class="t" style="left:305.31px;top:1096.28px;font-size:23.14px;color:#000;transform:scaleX(1.0581);font-weight:bold;-webkit-text-stroke:0.5px #000;">203</span>
<div style="left:289.3px;top:929.7px;width:67.0px;height:35.0px;background:#f6c8ac;"></div>
<span class="t" style="left:304.24px;top:936.86px;font-size:23.14px;color:#000;transform:scaleX(1.0858);font-weight:bold;-webkit-text-stroke:0.5px #000;">136</span>
<div style="left:297.2px;top:849.4px;width:51.0px;height:36.5px;background:#fdf0cc;"></div>
<span class="t" style="left:311.86px;top:857.34px;font-size:23.14px;color:#000;transform:scaleX(1.0242);font-weight:bold;-webkit-text-stroke:0.5px #000;">34</span>
<div style="left:307.4px;top:834.1px;width:31.0px;height:35.8px;background:#dcebd8;"></div>
<span class="t" style="left:316.36px;top:841.70px;font-size:23.14px;color:#000;transform:scaleX(1.0400);font-weight:bold;-webkit-text-stroke:0.5px #000;">0</span>
<span class="t" style="left:295.06px;top:1507.50px;font-size:23.14px;color:#000;transform:scaleX(1.0598);font-weight:bold;-webkit-text-stroke:0.5px #000;">2026</span>
<div style="left:516.3px;top:1202.2px;width:194.6px;height:287.7px;background:#4bb2e8;"></div>
<div style="left:516.3px;top:1010.9px;width:194.6px;height:191.3px;background:#4d51d1;"></div>
<div style="left:516.3px;top:884.0px;width:194.6px;height:126.9px;background:#f07b71;"></div>
<div style="left:516.3px;top:850.8px;width:194.6px;height:33.2px;background:#f4b400;"></div>
<div style="left:584.4px;top:1327.7px;width:59.0px;height:36.0px;background:#dde8f5;"></div>
<span class="t" style="left:593.41px;top:1335.42px;font-size:23.14px;color:#000;transform:scaleX(1.0581);font-weight:bold;-webkit-text-stroke:0.5px #000;">446</span>
<div style="left:580.5px;top:1088.6px;width:67.0px;height:36.0px;background:#b3b5ef;"></div>
<span class="t" style="left:596.51px;top:1096.28px;font-size:23.14px;color:#000;transform:scaleX(1.0581);font-weight:bold;-webkit-text-stroke:0.5px #000;">298</span>
<div style="left:580.5px;top:929.7px;width:67.0px;height:35.0px;background:#f6c8ac;"></div>
<span class="t" style="left:595.44px;top:936.86px;font-size:23.14px;color:#000;transform:scaleX(1.0858);font-weight:bold;-webkit-text-stroke:0.5px #000;">198</span>
<div style="left:588.4px;top:849.4px;width:51.0px;height:36.5px;background:#fdf0cc;"></div>
<span class="t" style="left:603.07px;top:857.34px;font-size:23.14px;color:#000;transform:scaleX(1.0646);font-weight:bold;-webkit-text-stroke:0.5px #000;">50</span>
<div style="left:598.6px;top:834.1px;width:31.0px;height:35.8px;background:#dcebd8;"></div>
<span class="t" style="left:607.56px;top:841.70px;font-size:23.14px;color:#000;transform:scaleX(1.0400);font-weight:bold;-webkit-text-stroke:0.5px #000;">0</span>
<span class="t" style="left:586.27px;top:1507.50px;font-size:23.14px;color:#000;transform:scaleX(1.0806);font-weight:bold;-webkit-text-stroke:0.5px #000;">2027</span>
<div style="left:807.5px;top:1202.2px;width:194.6px;height:287.7px;background:#4bb2e8;"></div>
<div style="left:807.5px;top:1010.9px;width:194.6px;height:191.3px;background:#4d51d1;"></div>
<div style="left:807.5px;top:884.0px;width:194.6px;height:126.9px;background:#f07b71;"></div>
<div style="left:807.5px;top:850.8px;width:194.6px;height:33.2px;background:#f4b400;"></div>
<div style="left:875.6px;top:1327.7px;width:59.0px;height:36.0px;background:#dde8f5;"></div>
<span class="t" style="left:884.62px;top:1335.42px;font-size:23.14px;color:#000;transform:scaleX(1.0858);font-weight:bold;-webkit-text-stroke:0.5px #000;">572</span>
<div style="left:871.7px;top:1088.6px;width:67.0px;height:36.0px;background:#b3b5ef;"></div>
<span class="t" style="left:887.71px;top:1096.28px;font-size:23.14px;color:#000;transform:scaleX(1.0581);font-weight:bold;-webkit-text-stroke:0.5px #000;">381</span>
<div style="left:871.7px;top:929.7px;width:67.0px;height:35.0px;background:#f6c8ac;"></div>
<span class="t" style="left:887.71px;top:936.86px;font-size:23.14px;color:#000;transform:scaleX(1.0581);font-weight:bold;-webkit-text-stroke:0.5px #000;">254</span>
<div style="left:879.6px;top:849.4px;width:51.0px;height:36.5px;background:#fdf0cc;"></div>
<span class="t" style="left:894.26px;top:857.34px;font-size:23.14px;color:#000;transform:scaleX(1.0242);font-weight:bold;-webkit-text-stroke:0.5px #000;">64</span>
<div style="left:889.8px;top:834.1px;width:31.0px;height:35.8px;background:#dcebd8;"></div>
<span class="t" style="left:898.76px;top:841.70px;font-size:23.14px;color:#000;transform:scaleX(1.0400);font-weight:bold;-webkit-text-stroke:0.5px #000;">0</span>
<span class="t" style="left:877.46px;top:1507.50px;font-size:23.14px;color:#000;transform:scaleX(1.0598);font-weight:bold;-webkit-text-stroke:0.5px #000;">2028</span>
<div style="left:1098.7px;top:1202.2px;width:194.6px;height:287.7px;background:#4bb2e8;"></div>
<div style="left:1098.7px;top:1010.9px;width:194.6px;height:191.3px;background:#4d51d1;"></div>
<div style="left:1098.7px;top:884.0px;width:194.6px;height:126.9px;background:#f07b71;"></div>
<div style="left:1098.7px;top:850.8px;width:194.6px;height:33.2px;background:#f4b400;"></div>
<div style="left:1166.8px;top:1327.7px;width:59.0px;height:36.0px;background:#dde8f5;"></div>
<span class="t" style="left:1175.81px;top:1335.42px;font-size:23.14px;color:#000;transform:scaleX(1.0581);font-weight:bold;-webkit-text-stroke:0.5px #000;">696</span>
<div style="left:1162.9px;top:1088.6px;width:67.0px;height:36.0px;background:#b3b5ef;"></div>
<span class="t" style="left:1178.91px;top:1096.28px;font-size:23.14px;color:#000;transform:scaleX(1.0581);font-weight:bold;-webkit-text-stroke:0.5px #000;">464</span>
<div style="left:1162.9px;top:929.7px;width:67.0px;height:35.0px;background:#f6c8ac;"></div>
<span class="t" style="left:1178.92px;top:936.86px;font-size:23.14px;color:#000;transform:scaleX(1.0858);font-weight:bold;-webkit-text-stroke:0.5px #000;">309</span>
<div style="left:1170.8px;top:849.4px;width:51.0px;height:36.5px;background:#fdf0cc;"></div>
<span class="t" style="left:1184.37px;top:857.34px;font-size:23.14px;color:#000;transform:scaleX(1.1083);font-weight:bold;-webkit-text-stroke:0.5px #000;">77</span>
<div style="left:1181.0px;top:834.1px;width:31.0px;height:35.8px;background:#dcebd8;"></div>
<span class="t" style="left:1189.96px;top:841.70px;font-size:23.14px;color:#000;transform:scaleX(1.0400);font-weight:bold;-webkit-text-stroke:0.5px #000;">0</span>
<span class="t" style="left:1168.67px;top:1507.50px;font-size:23.14px;color:#000;transform:scaleX(1.0806);font-weight:bold;-webkit-text-stroke:0.5px #000;">2029</span>
<div style="left:1389.9px;top:1202.2px;width:194.6px;height:287.7px;background:#4bb2e8;"></div>
<div style="left:1389.9px;top:1010.9px;width:194.6px;height:191.3px;background:#4d51d1;"></div>
<div style="left:1389.9px;top:884.0px;width:194.6px;height:126.9px;background:#f07b71;"></div>
<div style="left:1389.9px;top:850.8px;width:194.6px;height:33.2px;background:#f4b400;"></div>
<div style="left:1458.0px;top:1327.7px;width:59.0px;height:36.0px;background:#dde8f5;"></div>
<span class="t" style="left:1467.02px;top:1335.42px;font-size:23.14px;color:#000;transform:scaleX(1.0858);font-weight:bold;-webkit-text-stroke:0.5px #000;">830</span>
<div style="left:1454.1px;top:1088.6px;width:67.0px;height:36.0px;background:#b3b5ef;"></div>
<span class="t" style="left:1470.11px;top:1096.28px;font-size:23.14px;color:#000;transform:scaleX(1.0581);font-weight:bold;-webkit-text-stroke:0.5px #000;">554</span>
<div style="left:1454.1px;top:929.7px;width:67.0px;height:35.0px;background:#f6c8ac;"></div>
<span class="t" style="left:1470.12px;top:936.86px;font-size:23.14px;color:#000;transform:scaleX(1.0858);font-weight:bold;-webkit-text-stroke:0.5px #000;">369</span>
<div style="left:1462.0px;top:849.4px;width:51.0px;height:36.5px;background:#fdf0cc;"></div>
<span class="t" style="left:1476.67px;top:857.34px;font-size:23.14px;color:#000;transform:scaleX(1.0646);font-weight:bold;-webkit-text-stroke:0.5px #000;">92</span>
<div style="left:1472.2px;top:834.1px;width:31.0px;height:35.8px;background:#dcebd8;"></div>
<span class="t" style="left:1481.16px;top:841.70px;font-size:23.14px;color:#000;transform:scaleX(1.0400);font-weight:bold;-webkit-text-stroke:0.5px #000;">0</span>
<span class="t" style="left:1459.87px;top:1507.50px;font-size:23.14px;color:#000;transform:scaleX(1.0806);font-weight:bold;-webkit-text-stroke:0.5px #000;">2030</span>
<div style="left:1676.0px;top:899.5px;width:57.4px;height:4.0px;background:#4bb2e8;border-radius:2px;"></div>
<div style="left:1698.3px;top:896.3px;width:10.4px;height:10.4px;border-radius:50%;background:#4bb2e8;"></div>
<span class="t" style="left:1738.29px;top:891.50px;font-size:22.57px;color:#000;transform:scaleX(0.9792);font-weight:bold;-webkit-text-stroke:0.6px #000;">Cookies</span>
<div style="left:1676.0px;top:1031.8px;width:57.4px;height:4.0px;background:#4d51d1;border-radius:2px;"></div>
<div style="left:1698.0px;top:1028.3px;width:11.0px;height:11.0px;background:#4d51d1;"></div>
<span class="t" style="left:1737.29px;top:1023.80px;font-size:22.57px;color:#000;transform:scaleX(1.0201);font-weight:bold;-webkit-text-stroke:0.6px #000;">Meals</span>
<div style="left:1676.0px;top:1164.5px;width:57.4px;height:4.0px;background:#f07b71;border-radius:2px;"></div>
<svg style="left:1697.5px;top:1159.5px;" width="12" height="12" viewBox="0 0 12 12"><path d="M6 0 L12 12 L0 12 Z" fill="#f07b71"/></svg>
<span class="t" style="left:1737.29px;top:1156.50px;font-size:22.57px;color:#000;transform:scaleX(1.0159);font-weight:bold;-webkit-text-stroke:0.6px #000;">Beverages</span>
<div style="left:1676.0px;top:1296.3px;width:57.4px;height:4.0px;background:#f4b400;border-radius:2px;"></div>
<svg style="left:1697.5px;top:1292.3px;" width="12" height="12" viewBox="0 0 12 12"><path d="M0.5 0.5 L11.5 11.5 M11.5 0.5 L0.5 11.5 M6 0 V12" stroke="#f7c534" stroke-width="1.2" fill="none"/></svg>
<span class="t" style="left:1738.31px;top:1288.30px;font-size:22.57px;color:#000;transform:scaleX(1.0270);font-weight:bold;-webkit-text-stroke:0.6px #000;">Catering</span>
<div style="left:1676.0px;top:1428.3px;width:57.4px;height:4.0px;background:#2bb5a5;border-radius:2px;"></div>
<div style="left:1698.0px;top:1424.8px;width:11.0px;height:11.0px;background:#4daf6a;"></div>
<span class="t" style="left:1738.31px;top:1420.30px;font-size:22.57px;color:#000;transform:scaleX(1.0377);font-weight:bold;-webkit-text-stroke:0.6px #000;">Other Revenue</span>
<div style="left:2069.6px;top:1486.0px;width:776.7px;height:1.3px;background:#6bb4d8;"></div>
<div style="left:2033.5px;top:1485.8px;width:7.0px;height:2.6px;background:#000;"></div>
<div style="left:2069.6px;top:1416.0px;width:776.7px;height:1.3px;background:#6bb4d8;"></div>
<span class="t" style="left:1998.76px;top:1405.89px;font-size:23.14px;color:#000;transform:scaleX(1.1149);font-weight:bold;-webkit-text-stroke:0.5px #000;">100</span>
<div style="left:2069.6px;top:1345.0px;width:776.7px;height:1.3px;background:#6bb4d8;"></div>
<span class="t" style="left:1999.87px;top:1335.28px;font-size:23.14px;color:#000;transform:scaleX(1.0858);font-weight:bold;-webkit-text-stroke:0.5px #000;">200</span>
<div style="left:2069.6px;top:1275.0px;width:776.7px;height:1.3px;background:#6bb4d8;"></div>
<span class="t" style="left:1999.87px;top:1264.67px;font-size:23.14px;color:#000;transform:scaleX(1.0858);font-weight:bold;-webkit-text-stroke:0.5px #000;">300</span>
<div style="left:2069.6px;top:1204.0px;width:776.7px;height:1.3px;background:#6bb4d8;"></div>
<span class="t" style="left:1999.87px;top:1194.06px;font-size:23.14px;color:#000;transform:scaleX(1.0858);font-weight:bold;-webkit-text-stroke:0.5px #000;">400</span>
<div style="left:2069.6px;top:1133.0px;width:776.7px;height:1.3px;background:#6bb4d8;"></div>
<span class="t" style="left:1999.87px;top:1123.44px;font-size:23.14px;color:#000;transform:scaleX(1.0858);font-weight:bold;-webkit-text-stroke:0.5px #000;">500</span>
<div style="left:2069.6px;top:1063.0px;width:776.7px;height:1.3px;background:#6bb4d8;"></div>
<span class="t" style="left:1999.87px;top:1052.83px;font-size:23.14px;color:#000;transform:scaleX(1.0858);font-weight:bold;-webkit-text-stroke:0.5px #000;">600</span>
<div style="left:2069.6px;top:992.0px;width:776.7px;height:1.3px;background:#6bb4d8;"></div>
<span class="t" style="left:1998.76px;top:982.22px;font-size:23.14px;color:#000;transform:scaleX(1.1149);font-weight:bold;-webkit-text-stroke:0.5px #000;">700</span>
<div style="left:2069.6px;top:922.0px;width:776.7px;height:1.3px;background:#6bb4d8;"></div>
<span class="t" style="left:1999.87px;top:911.61px;font-size:23.14px;color:#000;transform:scaleX(1.0858);font-weight:bold;-webkit-text-stroke:0.5px #000;">800</span>
<div style="left:2069.6px;top:851.0px;width:776.7px;height:1.3px;background:#6bb4d8;"></div>
<span class="t" style="left:1999.87px;top:841.00px;font-size:23.14px;color:#000;transform:scaleX(1.0858);font-weight:bold;-webkit-text-stroke:0.5px #000;">900</span>
<svg style="left:2049.6px;top:840.0px;" width="820" height="670" viewBox="0 0 820 670"><polyline points="96.7,647.1 252.0,647.1 407.3,647.1 562.7,647.1 718.0,647.1" fill="none" stroke="#2bb5a5" stroke-width="4.2" stroke-linejoin="round" stroke-linecap="round"/><rect x="88.1" y="638.5" width="17.2" height="17.2" fill="#2bb5a5"/><rect x="243.4" y="638.5" width="17.2" height="17.2" fill="#2bb5a5"/><rect x="398.7" y="638.5" width="17.2" height="17.2" fill="#2bb5a5"/><rect x="554.1" y="638.5" width="17.2" height="17.2" fill="#2bb5a5"/><rect x="709.4" y="638.5" width="17.2" height="17.2" fill="#2bb5a5"/><polyline points="96.7,623.1 252.0,611.8 407.3,601.9 562.7,592.7 718.0,582.1" fill="none" stroke="#f4b400" stroke-width="4.2" stroke-linejoin="round" stroke-linecap="round"/><rect x="88.1" y="614.5" width="17.2" height="17.2" fill="#f4b400"/><rect x="243.4" y="603.2" width="17.2" height="17.2" fill="#f4b400"/><rect x="398.7" y="593.3" width="17.2" height="17.2" fill="#f4b400"/><rect x="554.1" y="584.1" width="17.2" height="17.2" fill="#f4b400"/><rect x="709.4" y="573.5" width="17.2" height="17.2" fill="#f4b400"/><polyline points="96.7,551.1 252.0,507.3 407.3,467.7 562.7,428.9 718.0,386.5" fill="none" stroke="#f07b71" stroke-width="4.2" stroke-linejoin="round" stroke-linecap="round"/><path d="M96.7 541.6 L105.7 558.6 L87.7 558.6 Z" fill="#f07b71"/><path d="M252.0 497.8 L261.0 514.8 L243.0 514.8 Z" fill="#f07b71"/><path d="M407.3 458.2 L416.3 475.2 L398.3 475.2 Z" fill="#f07b71"/><path d="M562.7 419.4 L571.7 436.4 L553.7 436.4 Z" fill="#f07b71"/><path d="M718.0 377.0 L727.0 394.0 L709.0 394.0 Z" fill="#f07b71"/><polyline points="96.7,503.8 252.0,436.7 407.3,378.1 562.7,319.5 718.0,255.9" fill="none" stroke="#4d51d1" stroke-width="4.2" stroke-linejoin="round" stroke-linecap="round"/><rect x="88.1" y="495.2" width="17.2" height="17.2" fill="#4d51d1"/><rect x="243.4" y="428.1" width="17.2" height="17.2" fill="#4d51d1"/><rect x="398.7" y="369.5" width="17.2" height="17.2" fill="#4d51d1"/><rect x="554.1" y="310.9" width="17.2" height="17.2" fill="#4d51d1"/><rect x="709.4" y="247.3" width="17.2" height="17.2" fill="#4d51d1"/><polyline points="96.7,431.7 252.0,332.2 407.3,243.2 562.7,155.6 718.0,61.0" fill="none" stroke="#4bb2e8" stroke-width="4.2" stroke-linejoin="round" stroke-linecap="round"/><circle cx="96.7" cy="431.7" r="7.2" fill="#4bb2e8"/><circle cx="252.0" cy="332.2" r="7.2" fill="#4bb2e8"/><circle cx="407.3" cy="243.2" r="7.2" fill="#4bb2e8"/><circle cx="562.7" cy="155.6" r="7.2" fill="#4bb2e8"/><circle cx="718.0" cy="61.0" r="7.2" fill="#4bb2e8"/></svg>
<span class="t" style="left:2119.13px;top:1505.00px;font-size:23.14px;color:#000;transform:scaleX(1.0560);font-weight:bold;-webkit-text-stroke:0.5px #000;">2026</span>
<span class="t" style="left:2274.48px;top:1505.00px;font-size:23.14px;color:#000;transform:scaleX(1.0767);font-weight:bold;-webkit-text-stroke:0.5px #000;">2027</span>
<span class="t" style="left:2429.81px;top:1505.00px;font-size:23.14px;color:#000;transform:scaleX(1.0560);font-weight:bold;-webkit-text-stroke:0.5px #000;">2028</span>
<span class="t" style="left:2585.16px;top:1505.00px;font-size:23.14px;color:#000;transform:scaleX(1.0767);font-weight:bold;-webkit-text-stroke:0.5px #000;">2029</span>
<span class="t" style="left:2740.50px;top:1505.00px;font-size:23.14px;color:#000;transform:scaleX(1.0767);font-weight:bold;-webkit-text-stroke:0.5px #000;">2030</span>
<div style="left:2541.9px;top:1576.6px;width:305.4px;height:29.8px;background:#d3d3e6;"></div>
<div style="left:2543.5px;top:1578.2px;width:302.2px;height:26.4px;background:#fff066;"></div>
<span class="t" style="left:2668.40px;top:1580.80px;font-size:22.86px;color:#1a1a1a;transform:scaleX(1.0830);font-weight:bold;">2026</span>
<div style="left:83.2px;top:1617.9px;width:1494.3px;height:1.2px;background:#6bb4d8;"></div>
<div style="left:1640px;top:1650px;width:140px;height:19.8px;overflow:hidden;"><div style="position:absolute;left:12.3px;top:9.3px;width:11.4px;height:12px;background:#4bb2e8;"></div></div>
<div style="left:1640px;top:1650px;width:140px;height:19.8px;overflow:hidden;" id="lg2">
<span class="t" style="left:30.00px;top:2.60px;font-size:22.57px;color:#000;transform:scaleX(0.9860);font-weight:bold;">Cookies</span>
</div>
<div style="left:2280px;top:1650px;width:200px;height:19.8px;overflow:hidden;" id="bx">
<div style="position:absolute;left:6.6px;top:10.4px;width:78px;height:30px;border:1.8px solid #4a4a4a;box-sizing:border-box;"></div>
<div style="position:absolute;left:98.7px;top:5.6px;width:80px;height:30px;border:1.8px solid #4a4a4a;box-sizing:border-box;"></div>
<span class="t" style="left:109.00px;top:13.80px;font-size:22.57px;color:#000;transform:scaleX(1.0260);font-weight:bold;">0.0%</span>
</div>
<svg style="left:35.0px;top:35.0px;" width="24" height="25" viewBox="0 0 24 25"><defs><clipPath id="xl"><rect x="3" y="0" width="20" height="24" rx="2.4"/></clipPath></defs><g clip-path="url(#xl)"><rect x="3" y="0" width="20" height="24" fill="#2e8b3c"/>
<rect x="3" y="0" width="10" height="9" fill="#5fd068"/><rect x="13" y="0" width="10" height="9" fill="#b4e86b"/>
<rect x="3" y="0" width="20" height="3" rx="2" fill="#6fd66f" opacity="0"/>
<rect x="13" y="9" width="10" height="15" fill="#2c8a2e"/><rect x="3" y="16" width="10" height="8" fill="#1f7a3a"/></g>
<rect x="0" y="9" width="13" height="12" rx="2" fill="#1d6b3e"/>
<path d="M3.6 11.8 L9.4 18.6 M9.4 11.8 L3.6 18.6" stroke="#fff" stroke-width="2.1"/></svg>
<span class="t" style="left:96.38px;top:38.60px;font-size:18.29px;color:#fff;transform:scaleX(0.9756);">wood-fired-pizza-restaurant.xlsx</span>
<div style="left:360.0px;top:48.4px;width:5.2px;height:1.5px;background:#fff;"></div>
<span class="t" style="left:375.66px;top:38.60px;font-size:18.29px;color:#fff;transform:scaleX(0.9399);">Read-Only</span>
<svg style="left:465.3px;top:43.1px;" width="17" height="10.5" viewBox="0 0 17 10.5"><path d="M2 2.00 L8.50 8.50 L15.00 2.00" fill="none" stroke="#fff" stroke-width="1.6" stroke-linecap="round" stroke-linejoin="round"/></svg>
<svg style="left:2472.0px;top:34.0px;" width="28" height="28" viewBox="0 0 28 28"><circle cx="17" cy="10.5" r="6.8" fill="none" stroke="#fff" stroke-width="1.7"/><path d="M12.2 15.3 L4 23.5" stroke="#fff" stroke-width="1.7" stroke-linecap="round"/></svg>
<svg style="left:2552.0px;top:28.0px;" width="38" height="38" viewBox="0 0 38 38"><defs><clipPath id="av"><circle cx="19" cy="18.7" r="18"/></clipPath></defs>
<g clip-path="url(#av)"><rect width="38" height="38" fill="#a9c9d4"/><rect y="0" width="38" height="9" fill="#8e9dbd"/>
<rect y="9" width="38" height="12" fill="#b5d6dc"/>
<ellipse cx="19" cy="17" rx="6.6" ry="8.2" fill="#c99f86"/><ellipse cx="19" cy="12" rx="6.2" ry="4" fill="#b98f78"/>
<path d="M5 38 Q6 27 19 26.5 Q32 27 33 38 Z" fill="#ddd6c8"/><path d="M15 25 L19 30 L23 25 Z" fill="#b98c74"/></g></svg>
<svg style="left:2627.0px;top:33.0px;" width="28" height="26" viewBox="0 0 28 26"><path d="M7.5 2 H20.5 L26 9.5 L14 24 L2 9.5 Z M2 9.5 H26 M7.5 2 L10.5 9.5 L14 24 L17.5 9.5 L20.5 2 M10.5 9.5 L14 2 L17.5 9.5" fill="none" stroke="#fff" stroke-width="1.5" stroke-linejoin="round"/></svg>
<div style="left:2703.0px;top:45.6px;width:16.0px;height:1.6px;background:#fff;"></div>
<svg style="left:2773.0px;top:38.0px;" width="20" height="19" viewBox="0 0 20 19"><rect x="2" y="4.6" width="11.4" height="11.4" rx="2.6" fill="none" stroke="#fff" stroke-width="1.6"/><path d="M5.8 2.6 Q6.5 1.8 8 1.8 H13.4 Q17.4 1.8 17.4 5.8 V11 Q17.4 12.6 16.3 13.2" fill="none" stroke="#fff" stroke-width="1.6"/></svg>
<svg style="left:2845.0px;top:38.0px;" width="20" height="19" viewBox="0 0 20 19"><path d="M2.5 2 L17.5 17 M17.5 2 L2.5 17" stroke="#fff" stroke-width="1.7" stroke-linecap="round"/></svg>
<div style="left:2621px;top:87.2px;width:135px;height:35.7px;box-sizing:border-box;border:1.2px solid #5e5e5e;border-radius:6px;background:#262626;"></div>
<svg style="left:2627.0px;top:95.0px;" width="20" height="20" viewBox="0 0 20 20"><path d="M2.2 2.5 H17.8 V12.8 H8.2 L4.2 16.6 V12.8 H2.2 Z" fill="none" stroke="#fff" stroke-width="1.5" stroke-linejoin="round"/></svg>
<span class="t" style="left:2652.60px;top:98.30px;font-size:17.86px;color:#fff;transform:scaleX(1.0809);">Comments</span>
<div style="left:2768px;top:87.2px;width:105px;height:35.7px;border-radius:6px;background:#3ba864;"></div>
<svg style="left:2773.0px;top:95.0px;" width="20" height="20" viewBox="0 0 20 20"><path d="M6.5 5.5 H3.2 Q2.2 5.5 2.2 6.5 V16 Q2.2 17 3.2 17 H15 Q16 17 16 16 V13.5" fill="none" stroke="#0d0d0d" stroke-width="1.5"/><path d="M11.5 2.2 L17.8 7.3 L11.5 12.4 V9.4 Q7.5 9.2 5.6 12.8 Q6 6.2 11.5 5.4 Z" fill="none" stroke="#0d0d0d" stroke-width="1.5" stroke-linejoin="round"/></svg>
<span class="t" style="left:2799.80px;top:98.30px;font-size:17.86px;color:#0d0d0d;transform:scaleX(1.0058);">Share</span>
<svg style="left:2856.0px;top:101.3px;" width="12" height="8.4" viewBox="0 0 12 8.4"><path d="M2 2.00 L6.00 6.40 L10.00 2.00" fill="none" stroke="#0d0d0d" stroke-width="1.6" stroke-linecap="round" stroke-linejoin="round"/></svg>
<span class="t" style="left:40.92px;top:98.00px;font-size:19.71px;color:#fff;transform:scaleX(0.9814);">File</span>
<span class="t" style="left:110.48px;top:98.00px;font-size:19.71px;color:#fff;transform:scaleX(1.0233);font-weight:bold;">Home</span>
<span class="t" style="left:197.03px;top:98.00px;font-size:19.71px;color:#fff;transform:scaleX(0.9740);">Insert</span>
<span class="t" style="left:276.53px;top:98.00px;font-size:19.71px;color:#fff;transform:scaleX(0.9733);">Draw</span>
<span class="t" style="left:352.54px;top:98.00px;font-size:19.71px;color:#fff;transform:scaleX(0.9556);">Page Layout</span>
<span class="t" style="left:490.01px;top:98.00px;font-size:19.71px;color:#fff;transform:scaleX(0.9852);">Formulas</span>
<span class="t" style="left:599.41px;top:98.00px;font-size:19.71px;color:#fff;transform:scaleX(0.9868);">Data</span>
<span class="t" style="left:670.58px;top:98.00px;font-size:19.71px;color:#fff;transform:scaleX(0.9249);">Review</span>
<span class="t" style="left:762.00px;top:98.00px;font-size:19.71px;color:#fff;transform:scaleX(0.9513);">View</span>
<span class="t" style="left:834.00px;top:98.00px;font-size:19.71px;color:#fff;transform:scaleX(1.0318);">Automate</span>
<span class="t" style="left:950.50px;top:98.00px;font-size:19.71px;color:#fff;">Help</span>
<div style="left:111.5px;top:120.0px;width:57.0px;height:3.0px;background:#5ebd8c;border-radius:1.5px;"></div>
<div style="left:23px;top:128px;width:2856px;height:149.7px;border-radius:11px;background:#292929;"></div>
<div style="left:281.9px;top:135.0px;width:1.2px;height:133.5px;background:#505050;"></div>
<div style="left:633.0px;top:135.0px;width:1.2px;height:133.5px;background:#505050;"></div>
<div style="left:1082.9px;top:135.0px;width:1.2px;height:133.5px;background:#505050;"></div>
<div style="left:1324.8px;top:135.0px;width:1.2px;height:133.5px;background:#505050;"></div>
<div style="left:1544.0px;top:135.0px;width:1.2px;height:133.5px;background:#505050;"></div>
<div style="left:1867.8px;top:135.0px;width:1.2px;height:133.5px;background:#505050;"></div>
<div style="left:1962.8px;top:135.0px;width:1.2px;height:133.5px;background:#505050;"></div>
<div style="left:2056.2px;top:135.0px;width:1.2px;height:133.5px;background:#505050;"></div>
<span class="t" style="left:109.50px;top:254.60px;font-size:15.57px;color:#fff;transform:scaleX(1.0234);">Clipboard</span>
<span class="t" style="left:429.61px;top:254.70px;font-size:15.57px;color:#fff;transform:scaleX(0.9930);">Font</span>
<span class="t" style="left:810.00px;top:254.70px;font-size:15.57px;color:#fff;transform:scaleX(1.0303);">Alignment</span>
<span class="t" style="left:1162.45px;top:254.60px;font-size:15.57px;color:#fff;transform:scaleX(1.0523);">Number</span>
<span class="t" style="left:1418.40px;top:255.40px;font-size:15.57px;color:#fff;transform:scaleX(0.9078);">Cells</span>
<span class="t" style="left:1681.57px;top:255.40px;font-size:15.57px;color:#fff;transform:scaleX(1.0320);">Editing</span>
<span class="t" style="left:1888.40px;top:255.40px;font-size:15.57px;color:#fff;">Add-ins</span>
<svg style="left:264.7px;top:256.6px;" width="13" height="13" viewBox="0 0 13 13"><path d="M1 8.5 V1 H8.5 M5 5 L11.5 11.5 M11.5 6 V11.5 H6" fill="none" stroke="#d6d6d6" stroke-width="1.5"/></svg>
<svg style="left:615.8px;top:256.6px;" width="13" height="13" viewBox="0 0 13 13"><path d="M1 8.5 V1 H8.5 M5 5 L11.5 11.5 M11.5 6 V11.5 H6" fill="none" stroke="#d6d6d6" stroke-width="1.5"/></svg>
<svg style="left:1065.8px;top:256.6px;" width="13" height="13" viewBox="0 0 13 13"><path d="M1 8.5 V1 H8.5 M5 5 L11.5 11.5 M11.5 6 V11.5 H6" fill="none" stroke="#d6d6d6" stroke-width="1.5"/></svg>
<svg style="left:1308.0px;top:256.6px;" width="13" height="13" viewBox="0 0 13 13"><path d="M1 8.5 V1 H8.5 M5 5 L11.5 11.5 M11.5 6 V11.5 H6" fill="none" stroke="#d6d6d6" stroke-width="1.5"/></svg>
<svg style="left:54.0px;top:140.0px;" width="44" height="48" viewBox="0 0 44 48"><path d="M11 5.5 H3.2 V41 H20" fill="none" stroke="#9c9c9c" stroke-width="3"/>
<path d="M24 5.5 H31.6 V18" fill="none" stroke="#9c9c9c" stroke-width="3"/>
<path d="M9.5 8.8 V4.2 H13.2 Q13.6 1.4 17.4 1.4 Q21.2 1.4 21.6 4.2 H25.3 V8.8 Z" fill="none" stroke="#9c9c9c" stroke-width="1.6"/>
<rect x="21.8" y="20.2" width="19.6" height="25" fill="none" stroke="#9c9c9c" stroke-width="1.6"/></svg>
<span class="t" style="left:51.26px;top:196.00px;font-size:17.43px;color:#6c6c6c;transform:scaleX(0.9356);">Paste</span>
<svg style="left:65.4px;top:222.6px;" width="11.6" height="8.2" viewBox="0 0 11.6 8.2"><path d="M2 2.00 L5.80 6.20 L9.60 2.00" fill="none" stroke="#5c5c5c" stroke-width="1.9" stroke-linecap="round" stroke-linejoin="round"/></svg>
<svg style="left:113.0px;top:138.0px;" width="24" height="30" viewBox="0 0 24 30"><path d="M6.6 2.1 L14.6 20.6 M16.1 2.1 L7.0 20.6" stroke="#d6d6d6" stroke-width="1.4" fill="none"/>
<circle cx="6.1" cy="23.0" r="2.6" fill="none" stroke="#3a96dd" stroke-width="1.9"/><circle cx="15.5" cy="23.0" r="2.6" fill="none" stroke="#3a96dd" stroke-width="1.9"/></svg>
<span class="t" style="left:142.50px;top:144.80px;font-size:17.43px;color:#fff;transform:scaleX(0.9717);">Cut</span>
<svg style="left:110.0px;top:177.0px;" width="28" height="28" viewBox="0 0 28 28"><path d="M10.5 20.5 H2.6 V3 H10.6 L13.4 5.8" fill="none" stroke="#d6d6d6" stroke-width="1.5"/>
<path d="M11.8 8.2 H19.6 L25.2 13.8 V25.4 H11.8 Z M19.4 8.4 V14 H25" fill="none" stroke="#d6d6d6" stroke-width="1.5"/>
<path d="M15 18 H22 M15 21.6 H22" stroke="#d6d6d6" stroke-width="1.4"/></svg>
<span class="t" style="left:142.50px;top:183.50px;font-size:17.43px;color:#fff;">Copy</span>
<svg style="left:209.6px;top:187.5px;" width="11.8" height="8.3" viewBox="0 0 11.8 8.3"><path d="M2 2.00 L5.90 6.30 L9.80 2.00" fill="none" stroke="#fff" stroke-width="2.0" stroke-linecap="round" stroke-linejoin="round"/></svg>
<svg style="left:110.0px;top:216.0px;" width="28" height="27" viewBox="0 0 28 27"><path d="M14.8 8.2 L23.4 2.6 L25.6 5.8 L17.4 11.6" fill="none" stroke="#d6d6d6" stroke-width="1.5" stroke-linejoin="round"/>
<path d="M11.2 6.8 L20 14.6 L17.2 17.6 L8.4 9.8 Z" fill="none" stroke="#d6d6d6" stroke-width="1.5" stroke-linejoin="round"/>
<path d="M8.4 9.8 L2.6 12.2 L12.4 23.6 L17.2 17.6" fill="none" stroke="#f0b84a" stroke-width="1.6" stroke-linejoin="round"/>
<path d="M5.6 15.6 L12.4 23.6 L16 19 Q10 18.6 5.6 15.6 Z" fill="#e8a23a"/></svg>
<span class="t" style="left:141.50px;top:222.50px;font-size:17.43px;color:#fff;">Format Painter</span>
<div style="left:295px;top:146px;width:180.8px;height:35.80000000000001px;box-sizing:border-box;border:1.2px solid #666;border-radius:6px;background:#292929;"></div>
<span class="t" style="left:298.80px;top:155.90px;font-size:18.0px;color:#fff;transform:scaleX(0.9673);">Tahoma</span>
<svg style="left:461.3px;top:160.4px;" width="11.8" height="8.3" viewBox="0 0 11.8 8.3"><path d="M2 2.00 L5.90 6.30 L9.80 2.00" fill="none" stroke="#fff" stroke-width="2.0" stroke-linecap="round" stroke-linejoin="round"/></svg>
<div style="left:479.2px;top:146px;width:64.80000000000001px;height:35.80000000000001px;box-sizing:border-box;border:1.2px solid #666;border-radius:6px;background:#292929;"></div>
<span class="t" style="left:482.20px;top:155.90px;font-size:18.0px;color:#fff;transform:scaleX(0.9400);">8</span>
<svg style="left:529.2px;top:160.4px;" width="11.8" height="8.3" viewBox="0 0 11.8 8.3"><path d="M2 2.00 L5.90 6.30 L9.80 2.00" fill="none" stroke="#fff" stroke-width="2.0" stroke-linecap="round" stroke-linejoin="round"/></svg>
<span class="t" style="left:554.20px;top:148.90px;font-size:27.14px;color:#d6d6d6;transform:scaleX(0.8947);">A</span>
<svg style="left:567.8px;top:151.8px;" width="11" height="8.2" viewBox="0 0 11 8.2"><path d="M2 6.20 L5.50 2.00 L9.00 6.20" fill="none" stroke="#3a96dd" stroke-width="1.7" stroke-linecap="round" stroke-linejoin="round"/></svg>
<span class="t" style="left:595.70px;top:153.90px;font-size:21.14px;color:#d6d6d6;transform:scaleX(0.9000);">A</span>
<svg style="left:606.5px;top:151.7px;" width="11.4" height="8.2" viewBox="0 0 11.4 8.2"><path d="M2 2.00 L5.70 6.20 L9.40 2.00" fill="none" stroke="#3a96dd" stroke-width="1.7" stroke-linecap="round" stroke-linejoin="round"/></svg>
<span class="t" style="left:306.59px;top:200.40px;font-size:20.29px;color:#d6d6d6;transform:scaleX(0.9077);font-weight:bold;">B</span>
<span class="t" style="left:347px;top:199.2px;font-size:23px;font-style:italic;color:#d6d6d6;font-family:'Liberation Serif',serif;">I</span>
<span class="t" style="left:383.84px;top:200.60px;font-size:19.14px;color:#d6d6d6;transform:scaleX(0.9583);">U</span>
<div style="left:383.0px;top:219.3px;width:14.0px;height:1.6px;background:#d6d6d6;"></div>
<svg style="left:413.4px;top:208.3px;" width="11.8" height="8.3" viewBox="0 0 11.8 8.3"><path d="M2 2.00 L5.90 6.30 L9.80 2.00" fill="none" stroke="#fff" stroke-width="2.0" stroke-linecap="round" stroke-linejoin="round"/></svg>
<div style="left:433.9px;top:194.0px;width:1.2px;height:36.0px;background:#505050;"></div>
<svg style="left:443.0px;top:198.0px;" width="26" height="27" viewBox="0 0 26 27"><path d="M2 2 H24 M2 2 V22 M24 2 V22 M13 2 V22 M2 12 H24" fill="none" stroke="#d6d6d6" stroke-width="1.5" stroke-dasharray="1.6 1.9"/>
<path d="M1.2 24.2 H24.8" stroke="#fff" stroke-width="1.9"/></svg>
<svg style="left:478.6px;top:208.3px;" width="11.8" height="8.3" viewBox="0 0 11.8 8.3"><path d="M2 2.00 L5.90 6.30 L9.80 2.00" fill="none" stroke="#fff" stroke-width="2.0" stroke-linecap="round" stroke-linejoin="round"/></svg>
<div style="left:498.9px;top:194.0px;width:1.2px;height:36.0px;background:#505050;"></div>
<svg style="left:509.0px;top:198.0px;" width="26" height="20" viewBox="0 0 26 20"><path d="M10.6 3.2 L4.4 11 L11.2 17.6 L18.6 9.6 L13.4 4.6" fill="none" stroke="#d6d6d6" stroke-width="1.5" stroke-linejoin="round"/>
<path d="M10.8 8.4 V3.4 Q10.8 1.6 12.4 1.6 Q14 1.6 14 3.4 V7" fill="none" stroke="#d6d6d6" stroke-width="1.5"/>
<path d="M17.4 7.6 Q21 8 21.6 14.4 Q19.4 11 17.6 10.8 Z" fill="#4aa0e6"/></svg>
<div style="left:509.0px;top:218.1px;width:24.2px;height:5.7px;background:#f6ec00;"></div>
<svg style="left:543.7px;top:208.3px;" width="11.8" height="8.3" viewBox="0 0 11.8 8.3"><path d="M2 2.00 L5.90 6.30 L9.80 2.00" fill="none" stroke="#fff" stroke-width="2.0" stroke-linecap="round" stroke-linejoin="round"/></svg>
<span class="t" style="left:575.20px;top:197.40px;font-size:23.0px;color:#d6d6d6;transform:scaleX(0.8625);">A</span>
<div style="left:569.8px;top:218.1px;width:24.5px;height:5.7px;background:#f00000;"></div>
<svg style="left:604.7px;top:208.3px;" width="11.8" height="8.3" viewBox="0 0 11.8 8.3"><path d="M2 2.00 L5.90 6.30 L9.80 2.00" fill="none" stroke="#fff" stroke-width="2.0" stroke-linecap="round" stroke-linejoin="round"/></svg>
<div style="left:653.0px;top:152.0px;width:21.8px;height:1.7px;background:#d6d6d6;"></div>
<div style="left:656.3px;top:158.1px;width:15.3px;height:1.7px;background:#d6d6d6;"></div>
<div style="left:653.0px;top:164.2px;width:21.8px;height:1.7px;background:#d6d6d6;"></div>
<div style="left:685.2px;top:146px;width:35.8px;height:35.8px;box-sizing:border-box;border:1.2px solid #7d7d7d;border-radius:6.5px;background:#3b3b3b;"></div>
<div style="left:692.0px;top:156.2px;width:21.9px;height:1.7px;background:#d6d6d6;"></div>
<div style="left:695.3px;top:162.2px;width:15.3px;height:1.7px;background:#d6d6d6;"></div>
<div style="left:692.0px;top:168.2px;width:21.9px;height:1.7px;background:#d6d6d6;"></div>
<div style="left:731.0px;top:162.2px;width:22.0px;height:1.7px;background:#d6d6d6;"></div>
<div style="left:734.3px;top:168.2px;width:15.4px;height:1.7px;background:#d6d6d6;"></div>
<div style="left:731.0px;top:174.3px;width:22.0px;height:1.7px;background:#d6d6d6;"></div>
<div style="left:763.0px;top:146.3px;width:1.2px;height:35.5px;background:#505050;"></div>
<span class="t" style="left:769.5px;top:151.6px;font-size:16px;color:#d6d6d6;transform:rotate(-45deg);transform-origin:50% 50%;">ab</span>
<svg style="left:778.0px;top:155.0px;" width="22" height="22" viewBox="0 0 22 22"><path d="M2.8 18.6 L17.6 4.4 M10.4 3.8 H18.2 V11.6" fill="none" stroke="#3a96dd" stroke-width="1.8"/></svg>
<svg style="left:804.4px;top:160.7px;" width="11.8" height="8.3" viewBox="0 0 11.8 8.3"><path d="M2 2.00 L5.90 6.30 L9.80 2.00" fill="none" stroke="#fff" stroke-width="2.0" stroke-linecap="round" stroke-linejoin="round"/></svg>
<div style="left:653.0px;top:201.3px;width:21.8px;height:1.7px;background:#d6d6d6;"></div>
<div style="left:653.0px;top:207.3px;width:15.3px;height:1.7px;background:#d6d6d6;"></div>
<div style="left:653.0px;top:213.3px;width:21.8px;height:1.7px;background:#d6d6d6;"></div>
<div style="left:653.0px;top:219.3px;width:15.3px;height:1.7px;background:#d6d6d6;"></div>
<div style="left:692.0px;top:201.3px;width:21.9px;height:1.7px;background:#d6d6d6;"></div>
<div style="left:695.3px;top:207.3px;width:15.3px;height:1.7px;background:#d6d6d6;"></div>
<div style="left:692.0px;top:213.3px;width:21.9px;height:1.7px;background:#d6d6d6;"></div>
<div style="left:695.3px;top:219.3px;width:15.3px;height:1.7px;background:#d6d6d6;"></div>
<div style="left:731.0px;top:201.3px;width:22.0px;height:1.7px;background:#d6d6d6;"></div>
<div style="left:737.6px;top:207.3px;width:15.4px;height:1.7px;background:#d6d6d6;"></div>
<div style="left:731.0px;top:213.3px;width:22.0px;height:1.7px;background:#d6d6d6;"></div>
<div style="left:737.6px;top:219.3px;width:15.4px;height:1.7px;background:#d6d6d6;"></div>
<div style="left:763.0px;top:194.0px;width:1.2px;height:36.0px;background:#505050;"></div>
<div style="left:774.2px;top:201.3px;width:21.6px;height:1.7px;background:#d6d6d6;"></div>
<div style="left:774.2px;top:219.3px;width:21.6px;height:1.7px;background:#d6d6d6;"></div>
<div style="left:786.3px;top:207.3px;width:9.5px;height:1.7px;background:#d6d6d6;"></div>
<div style="left:786.3px;top:213.3px;width:9.5px;height:1.7px;background:#d6d6d6;"></div>
<svg style="left:773.4px;top:205.2px;" width="13" height="12" viewBox="0 0 13 12"><path d="M11 6 H1.5 M5.8 1.6 L1.4 6 L5.8 10.4" fill="none" stroke="#3a96dd" stroke-width="1.8"/></svg>
<div style="left:813.3px;top:201.3px;width:21.6px;height:1.7px;background:#d6d6d6;"></div>
<div style="left:813.3px;top:219.3px;width:21.6px;height:1.7px;background:#d6d6d6;"></div>
<div style="left:825.4px;top:207.3px;width:9.5px;height:1.7px;background:#d6d6d6;"></div>
<div style="left:825.4px;top:213.3px;width:9.5px;height:1.7px;background:#d6d6d6;"></div>
<svg style="left:811.8px;top:205.2px;" width="13" height="12" viewBox="0 0 13 12"><path d="M1 6 H10.5 M6.2 1.6 L10.6 6 L6.2 10.4" fill="none" stroke="#3a96dd" stroke-width="1.8"/></svg>
<div style="left:851.0px;top:144.2px;width:1.2px;height:93.8px;background:#505050;"></div>
<span class="t" style="left:870.2px;top:151.2px;font-size:14.2px;color:#d6d6d6;">ab</span>
<span class="t" style="left:870.4px;top:162.6px;font-size:14.2px;color:#d6d6d6;">c</span>
<svg style="left:878.0px;top:162.0px;" width="16" height="15" viewBox="0 0 16 15"><path d="M12.6 1.6 Q13 8 7 8.2 H2.6 M6.4 4.2 L2.4 8.2 L6.4 12.2" fill="none" stroke="#3a96dd" stroke-width="1.8"/></svg>
<span class="t" style="left:897.80px;top:156.90px;font-size:17.43px;color:#fff;transform:scaleX(0.9890);">Wrap Text</span>
<svg style="left:866.0px;top:199.0px;" width="26" height="25" viewBox="0 0 26 25"><rect x="1.6" y="1.8" width="22" height="21" fill="none" stroke="#d6d6d6" stroke-width="1.5"/>
<path d="M12.6 1.8 V6.6 M12.6 18 V22.8" stroke="#d6d6d6" stroke-width="1.4"/>
<rect x="1.6" y="6.6" width="22" height="11.4" fill="none" stroke="#3a96dd" stroke-width="1.8"/>
<path d="M5 12.3 H20.2 M8 9.4 L5 12.3 L8 15.2 M17.2 9.4 L20.2 12.3 L17.2 15.2" fill="none" stroke="#3a96dd" stroke-width="1.6"/></svg>
<span class="t" style="left:896.77px;top:204.80px;font-size:17.43px;color:#fff;transform:scaleX(1.0272);">Merge &amp; Center</span>
<svg style="left:1048.4px;top:208.5px;" width="11.8" height="8.3" viewBox="0 0 11.8 8.3"><path d="M2 2.00 L5.90 6.30 L9.80 2.00" fill="none" stroke="#fff" stroke-width="2.0" stroke-linecap="round" stroke-linejoin="round"/></svg>
<div style="left:1096px;top:146px;width:217.70000000000005px;height:35.80000000000001px;box-sizing:border-box;border:1.2px solid #666;border-radius:6px;background:#292929;"></div>
<span class="t" style="left:1099.40px;top:155.90px;font-size:18.0px;color:#fff;transform:scaleX(0.9248);">General</span>
<svg style="left:1299.5px;top:160.4px;" width="11.8" height="8.3" viewBox="0 0 11.8 8.3"><path d="M2 2.00 L5.90 6.30 L9.80 2.00" fill="none" stroke="#fff" stroke-width="2.0" stroke-linecap="round" stroke-linejoin="round"/></svg>
<span class="t" style="left:1107.90px;top:197.60px;font-size:28.86px;color:#d6d6d6;transform:scaleX(0.6687);">$</span>
<svg style="left:1136.4px;top:208.5px;" width="11.8" height="8.3" viewBox="0 0 11.8 8.3"><path d="M2 2.00 L5.90 6.30 L9.80 2.00" fill="none" stroke="#fff" stroke-width="2.0" stroke-linecap="round" stroke-linejoin="round"/></svg>
<span class="t" style="left:1162.91px;top:197.80px;font-size:30.0px;color:#d6d6d6;transform:scaleX(0.8920);">%</span>
<svg style="left:1207.0px;top:202.0px;" width="16" height="21" viewBox="0 0 16 21"><path d="M8 1.4 Q13.2 1.4 13.2 7.6 Q13.2 15.6 3.4 18.4 L2.8 16.8 Q8.4 14.4 8.6 10.6 Q2 11.2 2 6.4 Q2 1.4 8 1.4 Z" fill="#d6d6d6"/></svg>
<div style="left:1235.0px;top:194.0px;width:1.2px;height:36.0px;background:#505050;"></div>
<svg style="left:1243.8px;top:201.0px;" width="17" height="12" viewBox="0 0 17 12"><path d="M16 5.7 H2.4 M6.6 1.4 L2.2 5.7 L6.6 10" fill="none" stroke="#3a96dd" stroke-width="1.8"/></svg>
<span class="t" style="left:1261.20px;top:198.30px;font-size:14.29px;color:#d6d6d6;transform:scaleX(0.8000);">0</span>
<span class="t" style="left:1247.81px;top:211.00px;font-size:14.29px;color:#d6d6d6;transform:scaleX(0.9942);">.00</span>
<span class="t" style="left:1287.24px;top:198.30px;font-size:14.29px;color:#d6d6d6;transform:scaleX(0.9624);">.00</span>
<svg style="left:1283.0px;top:211.4px;" width="16" height="12" viewBox="0 0 16 12"><path d="M1 5.7 H13.6 M9.4 1.4 L13.8 5.7 L9.4 10" fill="none" stroke="#3a96dd" stroke-width="1.8"/></svg>
<span class="t" style="left:1294.62px;top:211.00px;font-size:14.29px;color:#d6d6d6;transform:scaleX(0.9847);">.0</span>
<svg style="left:1345.0px;top:144.5px;" width="48" height="36" viewBox="-2 0 48 36"><rect x="1" y="1" width="41" height="32" fill="none" stroke="#d6d6d6" stroke-width="1.6"/><path d="M15 1 V33" stroke="#d6d6d6" stroke-width="1.5"/><path d="M28.4 1 V33" stroke="#d6d6d6" stroke-width="1.5"/><path d="M1 11.6 H42" stroke="#d6d6d6" stroke-width="1.5"/><path d="M1 22.4 H42" stroke="#d6d6d6" stroke-width="1.5"/><rect x="18" y="11" width="27" height="11.6" fill="#0f78d4" stroke="#4ea6ea" stroke-width="1.2"/><path d="M31.6 11 V22.6" stroke="#4ea6ea" stroke-width="1.2"/><path d="M20 14.6 H2.6 V19 H20 Z" fill="#4ea6ea" stroke="none"/><path d="M9 6.8 L-1 16.8 L9 26.8" fill="none" stroke="#4ea6ea" stroke-width="1.8"/></svg>
<span class="t" style="left:1346.49px;top:195.50px;font-size:17.43px;color:#fff;transform:scaleX(1.0110);">Insert</span>
<svg style="left:1362.4px;top:222.5px;" width="11.8" height="8.3" viewBox="0 0 11.8 8.3"><path d="M2 2.00 L5.90 6.30 L9.80 2.00" fill="none" stroke="#fff" stroke-width="2.0" stroke-linecap="round" stroke-linejoin="round"/></svg>
<svg style="left:1412.2px;top:144.5px;" width="48" height="36" viewBox="0 0 48 36"><rect x="1" y="1" width="41" height="32" fill="none" stroke="#d6d6d6" stroke-width="1.6"/><path d="M15 1 V33" stroke="#d6d6d6" stroke-width="1.5"/><path d="M28.4 1 V33" stroke="#d6d6d6" stroke-width="1.5"/><path d="M1 11.6 H42" stroke="#d6d6d6" stroke-width="1.5"/><path d="M1 22.4 H42" stroke="#d6d6d6" stroke-width="1.5"/><rect x="6" y="11" width="22" height="11.6" fill="#0f78d4" stroke="#4ea6ea" stroke-width="1.2"/><path d="M19.4 11 V22.6" stroke="#4ea6ea" stroke-width="1.2"/><path d="M28 11 L33.4 16.8 L28 22.6 Z" fill="#0f78d4" stroke="#4ea6ea" stroke-width="1.1"/><rect x="28.5" y="9" width="16" height="16" fill="#292929" opacity="0"/><path d="M28.4 9.6 L43.8 25.4 M43.8 9.6 L28.4 25.4" stroke="#e25d52" stroke-width="1.9"/></svg>
<span class="t" style="left:1408.69px;top:195.50px;font-size:17.43px;color:#fff;transform:scaleX(1.0129);">Delete</span>
<svg style="left:1427.1px;top:222.5px;" width="11.8" height="8.3" viewBox="0 0 11.8 8.3"><path d="M2 2.00 L5.90 6.30 L9.80 2.00" fill="none" stroke="#fff" stroke-width="2.0" stroke-linecap="round" stroke-linejoin="round"/></svg>
<svg style="left:1478.5px;top:144.5px;" width="44" height="36" viewBox="0 0 44 36"><rect x="1" y="1" width="40" height="32" fill="none" stroke="#d6d6d6" stroke-width="1.6"/><path d="M10.4 1 V33" stroke="#d6d6d6" stroke-width="1.5"/><path d="M30.6 1 V33" stroke="#d6d6d6" stroke-width="1.5"/><path d="M1 11.6 H41" stroke="#d6d6d6" stroke-width="1.5"/><path d="M1 22.4 H41" stroke="#d6d6d6" stroke-width="1.5"/><rect x="11.4" y="11" width="19" height="11.6" fill="#0f78d4" stroke="#4ea6ea" stroke-width="1.4"/></svg>
<svg style="left:1486.5px;top:137.0px;" width="28" height="8" viewBox="0 0 28 8"><path d="M1.6 1 V7 M25.6 1 V7 M1.6 4 H25.6" stroke="#3a96dd" stroke-width="1.7" fill="none"/></svg>
<span class="t" style="left:1471.66px;top:193.80px;font-size:17.43px;color:#fff;transform:scaleX(1.0417);">Format</span>
<svg style="left:1493.2px;top:220.8px;" width="11.8" height="8.3" viewBox="0 0 11.8 8.3"><path d="M2 2.00 L5.90 6.30 L9.80 2.00" fill="none" stroke="#fff" stroke-width="2.0" stroke-linecap="round" stroke-linejoin="round"/></svg>
<svg style="left:1564.0px;top:139.5px;" width="23" height="26" viewBox="0 0 23 26"><path d="M19.6 5.6 V2.6 H3.4 L12.4 12.8 L3.4 23 H19.6 V20" fill="none" stroke="#d6d6d6" stroke-width="1.7"/></svg>
<span class="t" style="left:1593.50px;top:144.80px;font-size:17.43px;color:#fff;transform:scaleX(1.0232);">AutoSum</span>
<svg style="left:1693.7px;top:148.8px;" width="11.8" height="8.3" viewBox="0 0 11.8 8.3"><path d="M2 2.00 L5.90 6.30 L9.80 2.00" fill="none" stroke="#fff" stroke-width="2.0" stroke-linecap="round" stroke-linejoin="round"/></svg>
<svg style="left:1562.0px;top:179.0px;" width="27" height="24" viewBox="0 0 27 24"><rect x="2" y="2" width="22.6" height="19.6" fill="none" stroke="#d6d6d6" stroke-width="1.6"/><path d="M2 5.6 H24.6" stroke="#d6d6d6" stroke-width="1.3"/><path d="M13.3 8 V18 M8.6 13.6 L13.3 18.2 L18 13.6" fill="none" stroke="#3a96dd" stroke-width="1.8"/></svg>
<span class="t" style="left:1592.96px;top:183.90px;font-size:17.43px;color:#fff;transform:scaleX(0.9370);">Fill</span>
<svg style="left:1618.4px;top:186.4px;" width="11.8" height="8.3" viewBox="0 0 11.8 8.3"><path d="M2 2.00 L5.90 6.30 L9.80 2.00" fill="none" stroke="#fff" stroke-width="2.0" stroke-linecap="round" stroke-linejoin="round"/></svg>
<svg style="left:1561.5px;top:216.5px;" width="27" height="27" viewBox="0 0 27 27"><path d="M13.6 2.4 L24.2 10 L9.8 24.6 L2.4 17.4 Z" fill="none" stroke="#c77ad6" stroke-width="1.7" stroke-linejoin="round"/><path d="M2.4 17.4 L8.4 11.2 L15.6 18.4 L9.8 24.6 Z" fill="#b748c8"/></svg>
<span class="t" style="left:1593.50px;top:222.50px;font-size:17.43px;color:#fff;transform:scaleX(0.9252);">Clear</span>
<svg style="left:1636.6px;top:225.4px;" width="11.8" height="8.3" viewBox="0 0 11.8 8.3"><path d="M2 2.00 L5.90 6.30 L9.80 2.00" fill="none" stroke="#fff" stroke-width="2.0" stroke-linecap="round" stroke-linejoin="round"/></svg>
<span class="t" style="left:1729.80px;top:138.40px;font-size:26.0px;color:#3a96dd;transform:scaleX(0.8556);">A</span>
<span class="t" style="left:1730.20px;top:161.00px;font-size:25.43px;color:#d6d6d6;transform:scaleX(0.9467);">Z</span>
<svg style="left:1746.0px;top:150.0px;" width="28" height="28" viewBox="0 0 28 28"><path d="M2.6 2.2 H25.6 L17 11.6 V24 H11.4 V11.6 Z" fill="none" stroke="#d6d6d6" stroke-width="1.7" stroke-linejoin="miter"/></svg>
<span class="t" style="left:1725.00px;top:193.80px;font-size:17.43px;color:#fff;transform:scaleX(1.0617);">Sort &amp;</span>
<span class="t" style="left:1723.52px;top:217.60px;font-size:17.43px;color:#fff;transform:scaleX(0.9812);">Filter</span>
<svg style="left:1766.1px;top:220.4px;" width="11.8" height="8.3" viewBox="0 0 11.8 8.3"><path d="M2 2.00 L5.90 6.30 L9.80 2.00" fill="none" stroke="#fff" stroke-width="2.0" stroke-linecap="round" stroke-linejoin="round"/></svg>
<svg style="left:1796.0px;top:139.0px;" width="48" height="48" viewBox="0 0 48 48"><circle cx="30.2" cy="17.8" r="15" fill="none" stroke="#d6d6d6" stroke-width="1.8"/><path d="M19.4 28.6 L2.6 45.2" stroke="#d6d6d6" stroke-width="1.8"/></svg>
<span class="t" style="left:1794.76px;top:193.80px;font-size:17.43px;color:#fff;transform:scaleX(1.0436);">Find &amp;</span>
<span class="t" style="left:1790.50px;top:217.60px;font-size:17.43px;color:#fff;transform:scaleX(0.9366);">Select</span>
<svg style="left:1840.4px;top:220.4px;" width="11.8" height="8.3" viewBox="0 0 11.8 8.3"><path d="M2 2.00 L5.90 6.30 L9.80 2.00" fill="none" stroke="#fff" stroke-width="2.0" stroke-linecap="round" stroke-linejoin="round"/></svg>
<svg style="left:1893.0px;top:139.5px;" width="46" height="46" viewBox="0 0 46 46"><rect x="2.4" y="2.4" width="40.6" height="40.6" fill="none" stroke="#c8502c" stroke-width="2.6"/><rect x="7.6" y="7.6" width="12.6" height="12.6" fill="none" stroke="#c8502c" stroke-width="1.7"/><rect x="25.2" y="7.6" width="12.6" height="12.6" fill="none" stroke="#c8502c" stroke-width="1.7"/><rect x="7.6" y="25.2" width="12.6" height="12.6" fill="none" stroke="#c8502c" stroke-width="1.7"/><rect x="25.2" y="25.2" width="12.6" height="12.6" fill="none" stroke="#c8502c" stroke-width="1.7"/></svg>
<span class="t" style="left:1885.40px;top:193.80px;font-size:17.43px;color:#fff;transform:scaleX(1.0428);">Add-ins</span>
<svg style="left:1988.0px;top:140.0px;" width="46" height="46" viewBox="0 0 46 46"><rect x="1.6" y="1.8" width="41" height="40" fill="none" stroke="#d6d6d6" stroke-width="1.6"/>
<path d="M1.6 6.4 H42.6" stroke="#8a8a8a" stroke-width="3.4"/>
<path d="M1.6 27.6 H42.6 M1.6 34.6 H42.6 M15.2 27.6 V41.8 M28.8 27.6 V41.8" stroke="#d6d6d6" stroke-width="1.4"/>
<circle cx="20.8" cy="18.6" r="12.6" fill="#292929" stroke="#d6d6d6" stroke-width="1.7"/>
<rect x="13.8" y="17" width="3.6" height="7.6" fill="#9a9a9a"/><rect x="18.4" y="11.4" width="3.8" height="13.2" fill="#d6d6d6"/><rect x="23.4" y="14.6" width="3.6" height="10" fill="#3a96dd"/>
<path d="M29.8 27.6 L42.4 41" stroke="#d6d6d6" stroke-width="3"/></svg>
<span class="t" style="left:1980.00px;top:193.80px;font-size:17.43px;color:#fff;transform:scaleX(0.9952);">Analyze</span>
<span class="t" style="left:1991.60px;top:217.60px;font-size:17.43px;color:#fff;">Data</span>
<div style="left:2156.5px;top:142.6px;width:112px;height:112px;border-radius:50%;background:#fefefe;"></div>
<div style="left:2181.9px;top:173.0px;width:61.1px;height:53.0px;background:#5d63f2;"></div>
<div style="left:2190.0px;top:181.4px;width:19.0px;height:13.6px;background:#fefefe;"></div>
<div style="left:2190.0px;top:203.5px;width:19.0px;height:13.9px;background:#fefefe;"></div>
<div style="left:2216.2px;top:181.4px;width:18.8px;height:13.6px;background:#fefefe;"></div>
<div style="left:2216.2px;top:203.5px;width:18.8px;height:13.9px;background:#fefefe;"></div>
<span class="t" style="left:2291.60px;top:156.00px;font-size:50.86px;color:#fff;font-weight:bold;-webkit-text-stroke:1.2px #fff;">FINM</span>
<span class="t" style="left:2451.49px;top:156.00px;font-size:50.86px;color:#fff;transform:scaleX(0.8380);font-weight:bold;-webkit-text-stroke:1.2px #fff;">DELSLAB</span>
<svg style="left:2410.0px;top:150.0px;" width="44" height="52" viewBox="0 0 44 52"><circle cx="21.6" cy="29.8" r="13.4" fill="none" stroke="#fff" stroke-width="9.6"/><path d="M21.6 6 V31" stroke="#292929" stroke-width="17" stroke-linecap="butt"/><path d="M21.6 9.4 V26.6" stroke="#fff" stroke-width="9.2" stroke-linecap="round"/></svg>
<span class="t" style="left:2295.80px;top:208.40px;font-size:34.86px;color:#fff;letter-spacing:24.632px;">Templates</span>
<svg style="left:2848.6px;top:252.1px;" width="17.4" height="11.4" viewBox="0 0 17.4 11.4"><path d="M2 2.00 L8.70 9.40 L15.40 2.00" fill="none" stroke="#fff" stroke-width="1.6" stroke-linecap="round" stroke-linejoin="round"/></svg>
<div style="left:11.0px;top:1669.8px;width:2880.0px;height:48.0px;background:#0a0a0a;"></div>
<svg style="left:44.0px;top:1684.0px;" width="14" height="18" viewBox="0 0 14 18"><path d="M10.6 2.6 L3.2 9.4 L10.6 16.2" fill="none" stroke="#d0d0d0" stroke-width="1.7"/></svg>
<svg style="left:92.0px;top:1684.0px;" width="14" height="18" viewBox="0 0 14 18"><path d="M3.4 2.6 L10.8 9.4 L3.4 16.2" fill="none" stroke="#d0d0d0" stroke-width="1.7"/></svg>
<div style="left:137.6px;top:1690.6px;width:4.4px;height:4.4px;border-radius:50%;background:#e6e6e6;"></div>
<div style="left:144.0px;top:1690.6px;width:4.4px;height:4.4px;border-radius:50%;background:#e6e6e6;"></div>
<div style="left:150.4px;top:1690.6px;width:4.4px;height:4.4px;border-radius:50%;background:#e6e6e6;"></div>
<div style="left:177px;top:1676px;width:89.0px;height:35.6px;border-radius:6px;background:#fce95e;"></div>
<span class="t" style="left:189.98px;top:1685.60px;font-size:20.0px;color:#1c1c1c;transform:scaleX(1.0220);">Payroll</span>
<div style="left:279px;top:1676px;width:87.0px;height:35.6px;border-radius:6px;background:#fce95e;"></div>
<span class="t" style="left:291.69px;top:1685.60px;font-size:20.0px;color:#1c1c1c;transform:scaleX(0.9088);">CAPEX</span>
<div style="left:271.9px;top:1681.0px;width:1.2px;height:26.6px;background:#4a4a4a;"></div>
<div style="left:379px;top:1676px;width:112.8px;height:35.6px;border-radius:6px;background:#fce95e;"></div>
<span class="t" style="left:390.97px;top:1685.60px;font-size:20.0px;color:#1c1c1c;transform:scaleX(1.0314);">CapTable</span>
<div style="left:371.9px;top:1681.0px;width:1.2px;height:26.6px;background:#4a4a4a;"></div>
<div style="left:505px;top:1676px;width:90.0px;height:35.6px;border-radius:6px;background:#fce95e;"></div>
<span class="t" style="left:517.46px;top:1685.60px;font-size:20.0px;color:#1c1c1c;transform:scaleX(1.0360);">Capital</span>
<div style="left:497.8px;top:1681.0px;width:1.2px;height:26.6px;background:#4a4a4a;"></div>
<div style="left:608px;top:1676px;width:42.0px;height:35.6px;border-radius:6px;background:#4bb2e8;"></div>
<span class="t" style="left:621.15px;top:1685.60px;font-size:20.0px;color:#1c1c1c;transform:scaleX(0.8544);">IS</span>
<div style="left:600.9px;top:1681.0px;width:1.2px;height:26.6px;background:#4a4a4a;"></div>
<div style="left:662.8px;top:1676px;width:48.0px;height:35.6px;border-radius:6px;background:#4bb2e8;"></div>
<span class="t" style="left:675.10px;top:1685.60px;font-size:20.0px;color:#1c1c1c;transform:scaleX(0.9040);">CF</span>
<div style="left:655.8px;top:1681.0px;width:1.2px;height:26.6px;background:#4a4a4a;"></div>
<div style="left:724px;top:1676px;width:48.0px;height:35.6px;border-radius:6px;background:#4bb2e8;"></div>
<span class="t" style="left:736.96px;top:1685.60px;font-size:20.0px;color:#1c1c1c;transform:scaleX(0.8366);">BS</span>
<div style="left:716.8px;top:1681.0px;width:1.2px;height:26.6px;background:#4a4a4a;"></div>
<div style="left:785px;top:1676px;width:115.0px;height:35.6px;border-radius:6px;background:#4bb2e8;"></div>
<span class="t" style="left:798.30px;top:1685.60px;font-size:20.0px;color:#1c1c1c;transform:scaleX(0.9805);">Scenarios</span>
<div style="left:777.9px;top:1681.0px;width:1.2px;height:26.6px;background:#4a4a4a;"></div>
<div style="left:912.8px;top:1676px;width:115.0px;height:35.6px;border-radius:6px;background:#4bb2e8;"></div>
<span class="t" style="left:926.00px;top:1685.60px;font-size:20.0px;color:#1c1c1c;transform:scaleX(1.0818);">Valuation</span>
<div style="left:905.8px;top:1681.0px;width:1.2px;height:26.6px;background:#4a4a4a;"></div>
<div style="left:1041px;top:1676px;width:113.8px;height:35.6px;border-radius:6px;background:#4bb2e8;"></div>
<span class="t" style="left:1055.40px;top:1685.60px;font-size:20.0px;color:#1c1c1c;transform:scaleX(1.0121);">Summary</span>
<div style="left:1033.8px;top:1681.0px;width:1.2px;height:26.6px;background:#4a4a4a;"></div>
<div style="left:1168px;top:1676px;width:48.0px;height:35.6px;border-radius:6px;background:#4bb2e8;"></div>
<span class="t" style="left:1180.96px;top:1685.60px;font-size:20.0px;color:#1c1c1c;transform:scaleX(0.8366);">BE</span>
<div style="left:1160.8px;top:1681.0px;width:1.2px;height:26.6px;background:#4a4a4a;"></div>
<div style="left:1229px;top:1676px;width:71.9px;height:35.6px;border-radius:6px;background:#4bb2e8;"></div>
<span class="t" style="left:1241.65px;top:1685.60px;font-size:20.0px;color:#1c1c1c;transform:scaleX(0.9473);">ROIC</span>
<div style="left:1221.9px;top:1681.0px;width:1.2px;height:26.6px;background:#4a4a4a;"></div>
<div style="left:1314px;top:1676px;width:84.9px;height:35.6px;border-radius:6px;background:#4bb2e8;"></div>
<span class="t" style="left:1326.30px;top:1685.60px;font-size:20.0px;color:#1c1c1c;">Charts</span>
<div style="left:1306.9px;top:1681.0px;width:1.2px;height:26.6px;background:#4a4a4a;"></div>
<div style="left:1412px;top:1676px;width:63.9px;height:35.6px;border-radius:6px;background:#4bb2e8;"></div>
<span class="t" style="left:1425.01px;top:1685.60px;font-size:20.0px;color:#1c1c1c;transform:scaleX(0.8948);">KPIs</span>
<div style="left:1404.9px;top:1681.0px;width:1.2px;height:26.6px;background:#4a4a4a;"></div>
<div style="left:1489px;top:1676px;width:169.0px;height:35.6px;border-radius:6px;background:#4bb2e8;"></div>
<span class="t" style="left:1501.00px;top:1685.60px;font-size:20.0px;color:#1c1c1c;">Sources &amp; Uses</span>
<div style="left:1481.9px;top:1681.0px;width:1.2px;height:26.6px;background:#4a4a4a;"></div>
<div style="left:1671px;top:1676px;width:83.0px;height:35.6px;border-radius:6px;background:#4bb2e8;"></div>
<span class="t" style="left:1684.02px;top:1685.60px;font-size:20.0px;color:#1c1c1c;transform:scaleX(0.9840);">Ratios</span>
<div style="left:1663.9px;top:1681.0px;width:1.2px;height:26.6px;background:#4a4a4a;"></div>
<div style="left:1767px;top:1676px;width:95.8px;height:35.6px;border-radius:6px;background:#4bb2e8;"></div>
<span class="t" style="left:1779.67px;top:1685.60px;font-size:20.0px;color:#1c1c1c;transform:scaleX(1.0325);">DuPont</span>
<div style="left:1759.9px;top:1681.0px;width:1.2px;height:26.6px;background:#4a4a4a;"></div>
<div style="left:1868.6px;top:1681.0px;width:1.2px;height:26.6px;background:#4a4a4a;"></div>
<div style="left:1876px;top:1669.8px;width:151.3px;height:41.8px;border-radius:0 0 7px 7px;background:linear-gradient(#ffffff 0%,#fbfdfe 25%,#cfe5f4 100%);"></div>
<div style="left:1869px;top:1669.8px;width:7px;height:7px;background:radial-gradient(circle at 0% 100%,#0a0a0a 6.4px,#fff 7.4px);"></div>
<div style="left:2027.3px;top:1669.8px;width:7px;height:7px;background:radial-gradient(circle at 100% 100%,#0a0a0a 6.4px,#fff 7.4px);"></div>
<span class="t" style="left:1888.60px;top:1681.00px;font-size:20.0px;color:#1c1c1c;transform:scaleX(1.0251);">Top_Revenue</span>
<div style="left:1888.6px;top:1705.0px;width:126.4px;height:2.7px;background:#1e8449;"></div>
<div style="left:2032.9px;top:1681.0px;width:1.2px;height:26.6px;background:#4a4a4a;"></div>
<div style="left:2040px;top:1676px;width:32px;height:35.6px;border-radius:6px 0 0 6px;background:#4bb2e8;overflow:hidden;" id="to">
<span class="t" style="left:14.00px;top:9.60px;font-size:20.0px;color:#1c1c1c;">To</span>
</div>
<div style="left:2087.0px;top:1690.4px;width:4.4px;height:4.4px;border-radius:50%;background:#e6e6e6;"></div>
<div style="left:2093.4px;top:1690.4px;width:4.4px;height:4.4px;border-radius:50%;background:#e6e6e6;"></div>
<div style="left:2099.8px;top:1690.4px;width:4.4px;height:4.4px;border-radius:50%;background:#e6e6e6;"></div>
<svg style="left:2134.0px;top:1683.0px;" width="19" height="19" viewBox="0 0 19 19"><path d="M9.4 1.2 V17.6 M1.2 9.4 H17.6" stroke="#e0e0e0" stroke-width="1.6"/></svg>
<div style="left:2190.0px;top:1687.0px;width:4.2px;height:3.4px;background:#e0e0e0;"></div>
<div style="left:2190.0px;top:1692.6px;width:4.2px;height:3.4px;background:#e0e0e0;"></div>
<div style="left:2190.0px;top:1698.2px;width:4.2px;height:3.4px;background:#e0e0e0;"></div>
<div style="left:2216px;top:1681px;width:643.5px;height:25px;border-radius:12.5px;background:#171717;"></div>
<svg style="left:2223.0px;top:1686.0px;" width="12" height="14" viewBox="0 0 12 14"><path d="M10.6 1 V13 L1 7 Z" fill="#9e9e9e" stroke="#9e9e9e" stroke-width="1" stroke-linejoin="round"/></svg>
<div style="left:2241.8px;top:1687px;width:508.5px;height:12.4px;border-radius:6.2px;background:#9e9e9e;"></div>
<svg style="left:2841.0px;top:1686.0px;" width="12" height="14" viewBox="0 0 12 14"><path d="M1.4 1 V13 L11 7 Z" fill="#9e9e9e" stroke="#9e9e9e" stroke-width="1" stroke-linejoin="round"/></svg>
<div style="left:2860.5px;top:277.7px;width:30.5px;height:1392.1px;background:#121212;"></div>
<div style="left:2863px;top:279px;width:26px;height:1389px;border-radius:13px;background:#171717;"></div>
<svg style="left:2869.5px;top:286.0px;" width="15" height="11" viewBox="0 0 15 11"><path d="M1 9.6 H14 L7.5 1.2 Z" fill="#9e9e9e" stroke="#9e9e9e" stroke-width="1" stroke-linejoin="round"/></svg>
<div style="left:2870px;top:304.6px;width:12.4px;height:561.7px;border-radius:6.2px;background:#9e9e9e;"></div>
<svg style="left:2868.5px;top:1653.0px;" width="15" height="11" viewBox="0 0 15 11"><path d="M1 1.4 H14 L7.5 9.8 Z" fill="#9e9e9e" stroke="#9e9e9e" stroke-width="1" stroke-linejoin="round"/></svg>
<div style="left:11.0px;top:1717.8px;width:2880.0px;height:33.2px;background:#141414;"></div>
<div style="left:11.0px;top:1717.4px;width:2880.0px;height:1.0px;background:#2e2e2e;"></div>
<span class="t" style="left:26.63px;top:1728.00px;font-size:15.14px;color:#e8e8e8;transform:scaleX(0.9732);">Ready</span>
<svg style="left:98.0px;top:1724.0px;" width="26" height="23" viewBox="0 0 26 23"><rect x="2" y="2.4" width="20.6" height="17" fill="none" stroke="#e0e0e0" stroke-width="1.5"/><path d="M2 6.4 H22.6" stroke="#e0e0e0" stroke-width="1.4"/><path d="M5.4 10.4 H11 M5.4 13.6 H10 M5.4 16.6 H10" stroke="#e0e0e0" stroke-width="1.3"/><circle cx="17.4" cy="15.4" r="5.4" fill="#141414" stroke="#e0e0e0" stroke-width="1.5"/><circle cx="17.4" cy="15.4" r="2.2" fill="#e0e0e0"/></svg>
<svg style="left:145.0px;top:1723.0px;" width="26" height="25" viewBox="0 0 26 25"><circle cx="10.4" cy="3.8" r="2.4" fill="none" stroke="#e6e6e6" stroke-width="1.4"/><path d="M2.2 7.8 L8 9.8 H12.6 L18.6 7.8 M8 9.8 L7.4 15 L4 22 M12.6 9.8 L13 15 L15 18" fill="none" stroke="#e6e6e6" stroke-width="1.5" stroke-linecap="round" stroke-linejoin="round"/><path d="M14.6 15 L22.4 22.8 M22.4 15 L14.6 22.8" stroke="#e6e6e6" stroke-width="1.5"/></svg>
<span class="t" style="left:173.90px;top:1728.00px;font-size:15.43px;color:#f0f0f0;transform:scaleX(1.0119);font-weight:bold;">Accessibility: Investigate</span>
<div style="left:2445.0px;top:1718.4px;width:59.7px;height:32.6px;background:#272727;"></div>
<svg style="left:2463.0px;top:1723.5px;" width="23" height="22" viewBox="0 0 23 22"><rect x="1.8" y="1.8" width="19" height="18.4" fill="none" stroke="#f0f0f0" stroke-width="1.7"/><path d="M8.1 1.8 V20.2 M14.5 1.8 V20.2 M1.8 7.9 H20.8 M1.8 14.1 H20.8" stroke="#f0f0f0" stroke-width="1.5"/></svg>
<svg style="left:2523.0px;top:1723.5px;" width="25" height="22" viewBox="0 0 25 22"><rect x="1.8" y="1.8" width="20.4" height="18.4" fill="none" stroke="#f0f0f0" stroke-width="1.7"/><rect x="6.4" y="5.8" width="11.2" height="10.6" fill="none" stroke="#f0f0f0" stroke-width="1.4"/><path d="M9 9.4 H15 M9 12.6 H15" stroke="#f0f0f0" stroke-width="1.3"/></svg>
<svg style="left:2583.0px;top:1723.5px;" width="25" height="22" viewBox="0 0 25 22"><rect x="1.8" y="1.8" width="20.4" height="18.4" fill="none" stroke="#f0f0f0" stroke-width="1.7"/><path d="M7 1.8 V12.4 H15 V1.8 M1.8 12.4 H7" fill="none" stroke="#f0f0f0" stroke-width="1.6"/></svg>
<div style="left:2633.5px;top:1734.0px;width:11.0px;height:1.3px;background:#d0d0d0;"></div>
<div style="left:2653.0px;top:1734.2px;width:148.0px;height:1.2px;background:#c8c8c8;"></div>
<div style="left:2726.4px;top:1730.6px;width:1.4px;height:8.4px;background:#c8c8c8;"></div>
<div style="left:2733.0px;top:1726.2px;width:8.0px;height:17.1px;background:#bdbdbd;"></div>
<svg style="left:2808.0px;top:1728.5px;" width="14" height="13" viewBox="0 0 14 13"><path d="M7 0.8 V12.2 M1.2 6.5 H12.8" stroke="#d8d8d8" stroke-width="1.3"/></svg>
<span class="t" style="left:2839.68px;top:1728.00px;font-size:15.14px;color:#e8e8e8;transform:scaleX(1.0152);">140%</span>
</div></body></html>
